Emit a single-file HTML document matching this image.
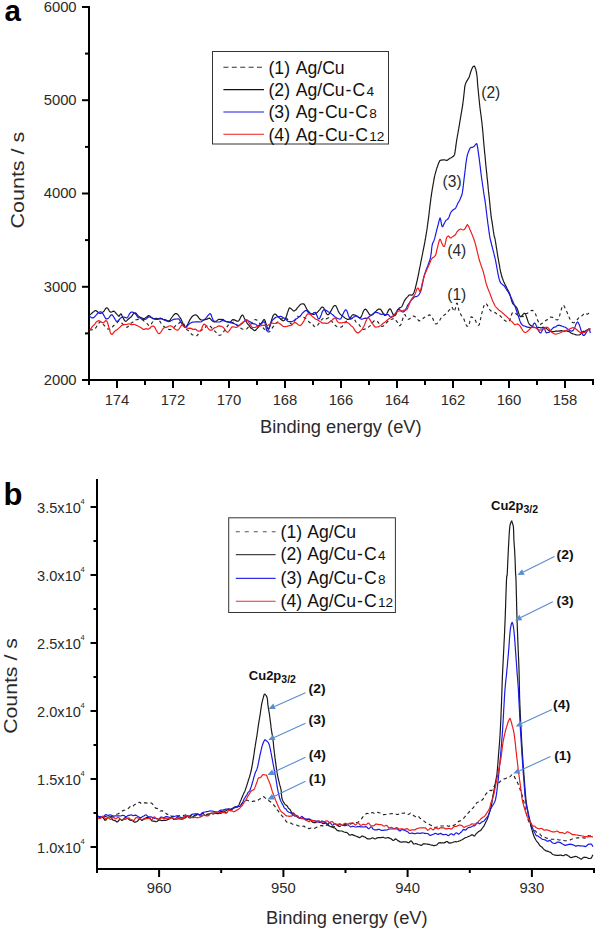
<!DOCTYPE html>
<html><head><meta charset="utf-8"><style>
html,body{margin:0;padding:0;background:#fff;}
svg{display:block;}
</style></head><body>
<svg width="597" height="929" viewBox="0 0 597 929">
<rect width="597" height="929" fill="#fff"/>
<g stroke="#000" stroke-width="2" fill="none">
<path d="M89 6V381M88 380H594"/>
<path d="M82 380.0H89"/>
<path d="M82 286.8H89"/>
<path d="M82 193.5H89"/>
<path d="M82 100.2H89"/>
<path d="M82 7.0H89"/>
<path d="M85 333.4H89"/>
<path d="M85 240.1H89"/>
<path d="M85 146.9H89"/>
<path d="M85 53.6H89"/>
<path d="M593.0 380V385.0"/>
<path d="M565.0 380V388.0"/>
<path d="M537.0 380V385.0"/>
<path d="M509.0 380V388.0"/>
<path d="M481.0 380V385.0"/>
<path d="M453.0 380V388.0"/>
<path d="M425.0 380V385.0"/>
<path d="M397.0 380V388.0"/>
<path d="M369.0 380V385.0"/>
<path d="M341.0 380V388.0"/>
<path d="M313.0 380V385.0"/>
<path d="M285.0 380V388.0"/>
<path d="M257.0 380V385.0"/>
<path d="M229.0 380V388.0"/>
<path d="M201.0 380V385.0"/>
<path d="M173.0 380V388.0"/>
<path d="M145.0 380V385.0"/>
<path d="M117.0 380V388.0"/>
<path d="M89.0 380V385.0"/>
</g>
<path d="M89.7 329.9L90.4 329.8L91.5 329.8L92.6 329.7L93.9 329.8L95.0 329.2L95.6 328.1L96.3 327.0L96.9 325.9L97.5 324.9L98.1 323.9L98.8 323.1L99.4 322.5L100.0 322.0L100.8 321.6L101.7 322.0L102.5 323.1L103.3 324.3L104.2 325.3L105.0 326.2L105.8 327.0L106.7 328.1L107.5 328.9L108.3 329.0L109.2 329.1L110.0 329.3L110.7 329.2L111.4 328.7L112.1 327.6L112.8 326.5L113.5 325.7L114.2 325.1L115.0 324.4L115.9 323.7L116.9 322.9L117.9 321.6L119.0 321.1L120.0 322.1L121.0 323.0L121.9 323.3L122.7 323.9L123.6 324.7L124.4 325.4L125.3 326.3L126.1 327.0L127.0 327.3L127.9 326.8L128.7 325.8L129.6 324.9L130.4 323.9L131.3 322.9L132.1 322.5L133.0 322.0L134.0 321.1L135.0 320.1L136.0 319.7L137.0 319.6L138.0 319.4L139.0 319.4L140.0 319.5L141.0 319.7L142.1 319.8L143.1 320.2L144.1 321.2L145.0 321.9L146.0 322.6L147.0 323.5L148.0 324.7L149.0 325.7L150.0 325.6L150.6 324.8L151.3 323.9L151.9 323.0L152.6 322.0L153.3 320.9L154.0 319.7L154.6 318.9L155.3 318.5L156.0 318.4L156.7 318.4L157.5 318.7L158.2 319.2L158.9 320.1L159.6 321.0L160.4 322.1L161.2 323.7L162.0 324.7L162.7 325.3L163.5 326.1L164.3 326.7L165.2 327.4L166.0 328.1L166.8 328.7L167.7 329.3L168.5 329.4L169.3 329.5L170.0 329.6L171.0 329.5L171.9 329.1L172.7 328.6L173.5 327.9L174.3 327.1L175.2 326.2L176.0 325.4L176.9 325.1L177.7 324.8L178.6 323.8L179.4 322.7L180.3 322.1L181.1 322.2L182.0 322.7L182.6 322.9L183.2 323.2L183.7 323.8L184.3 324.9L184.9 326.3L185.5 327.4L186.1 328.5L186.7 329.5L187.3 329.9L188.0 330.3L188.9 331.2L189.9 332.1L190.9 333.4L192.0 334.6L193.1 334.9L194.1 334.7L195.1 335.1L196.0 335.7L197.0 335.7L197.9 334.7L198.7 333.4L199.5 332.3L200.3 331.1L201.2 330.3L202.0 330.0L202.9 329.5L203.7 328.9L204.6 328.2L205.4 327.3L206.3 326.2L207.1 325.6L208.0 325.3L208.9 325.3L209.7 325.7L210.6 326.6L211.4 327.5L212.3 328.6L213.1 329.9L214.0 330.6L214.8 331.1L215.5 331.9L216.2 332.5L217.0 333.3L217.8 334.3L218.5 335.0L219.2 335.3L220.0 335.2L220.6 335.0L221.2 334.7L221.8 334.1L222.4 333.3L223.0 332.6L223.6 331.9L224.2 330.8L224.8 329.5L225.4 328.5L226.0 327.9L226.8 327.1L227.5 326.1L228.2 325.1L229.0 324.1L229.8 323.0L230.5 322.3L231.2 322.3L232.0 322.5L232.9 322.4L233.7 322.2L234.6 322.4L235.4 323.5L236.3 324.7L237.1 325.4L238.0 325.6L238.9 326.1L239.7 327.1L240.6 328.1L241.4 328.6L242.3 329.0L243.1 329.3L244.0 329.4L244.9 329.3L245.7 329.0L246.6 329.0L247.4 328.2L248.3 327.1L249.1 326.2L250.0 325.0L250.9 323.9L251.7 323.4L252.6 322.8L253.4 321.4L254.3 320.1L255.1 319.6L256.0 319.7L256.8 320.0L257.5 320.7L258.2 321.8L259.0 322.7L259.8 323.5L260.5 324.4L261.2 325.0L262.0 325.5L262.8 326.7L263.5 328.3L264.2 329.1L265.0 329.5L265.8 330.3L266.5 330.9L267.2 331.3L268.0 331.7L268.8 332.0L269.5 331.8L270.2 330.8L271.0 329.6L271.8 328.6L272.5 327.6L273.2 326.6L274.0 325.6L274.8 324.7L275.5 323.9L276.2 323.1L277.0 322.4L277.8 322.0L278.5 321.3L279.2 320.4L280.0 319.6L281.0 319.1L282.0 318.9L283.0 318.4L284.0 317.8L285.0 317.5L286.0 317.8L286.8 318.4L287.5 319.3L288.2 320.6L289.0 321.8L289.8 322.5L290.5 323.3L291.2 323.9L292.0 324.1L292.6 323.9L293.2 323.3L293.8 322.6L294.4 321.6L295.0 320.2L295.6 318.9L296.2 317.8L296.8 316.8L297.4 316.3L298.0 316.5L299.0 316.6L300.0 316.7L301.0 316.9L302.0 317.2L303.0 317.1L304.0 317.5L304.9 317.9L305.7 318.5L306.6 319.3L307.4 320.5L308.3 321.2L309.1 322.0L310.0 322.7L310.9 322.9L311.7 323.0L312.6 324.0L313.4 325.5L314.3 326.4L315.1 326.9L316.0 326.9L316.8 326.4L317.5 325.5L318.2 324.4L319.0 323.4L319.8 322.3L320.5 321.3L321.2 320.1L322.0 319.4L323.0 318.6L324.0 317.9L325.0 318.2L326.0 318.9L327.0 318.6L328.0 317.9L328.8 317.9L329.5 318.8L330.2 319.9L331.0 320.8L331.8 321.4L332.5 322.2L333.2 323.4L334.0 324.4L334.9 325.1L335.7 325.7L336.6 326.4L337.4 326.8L338.3 327.2L339.1 327.4L340.0 327.3L340.8 327.1L341.5 327.0L342.2 326.6L343.0 325.6L343.8 324.1L344.5 323.1L345.2 322.3L346.0 321.6L346.9 321.1L347.7 320.5L348.6 319.9L349.4 319.5L350.3 319.0L351.1 318.4L352.0 318.3L352.8 318.4L353.5 318.6L354.2 319.2L355.0 320.4L355.8 321.8L356.5 322.5L357.2 322.9L358.0 323.6L358.8 324.3L359.5 325.2L360.2 326.3L361.0 327.4L361.8 328.3L362.5 329.1L363.2 329.5L364.0 329.4L364.9 329.0L365.7 328.8L366.6 328.5L367.4 327.9L368.3 327.3L369.1 326.6L370.0 325.9L370.8 325.3L371.5 324.4L372.2 323.0L373.0 322.0L373.8 321.2L374.5 320.5L375.2 320.3L376.0 320.7L376.8 321.0L377.5 321.5L378.2 322.3L379.0 323.3L379.8 324.1L380.5 325.1L381.2 326.0L382.0 326.4L382.9 326.3L383.7 325.8L384.6 325.1L385.4 323.9L386.3 322.9L387.1 322.0L388.0 321.3L388.9 320.6L389.7 319.8L390.6 319.2L391.4 319.3L392.3 319.1L393.1 318.7L394.0 318.5L394.7 318.7L395.4 319.6L396.1 320.7L396.8 321.5L397.5 322.4L398.1 323.8L398.8 325.0L399.4 325.6L400.0 325.6L400.5 325.1L401.0 324.4L401.4 323.4L401.8 322.2L402.2 320.7L402.6 319.3L403.0 318.2L403.4 317.1L403.8 316.0L404.2 314.8L405.0 314.6L405.8 316.0L406.7 317.4L407.5 318.6L408.4 319.3L409.3 319.0L410.3 318.2L411.2 317.1L412.3 316.2L413.4 316.0L414.2 316.2L415.0 316.7L415.9 317.5L416.7 318.5L417.6 319.4L418.5 320.4L419.3 320.9L420.1 320.6L421.0 320.0L421.9 319.6L422.7 319.0L423.4 318.1L424.2 317.5L425.1 317.0L426.2 316.5L427.4 316.0L428.7 315.1L429.9 314.9L431.0 315.8L431.6 316.5L432.2 317.3L432.7 318.4L433.2 319.6L433.8 320.7L434.3 321.9L434.8 323.0L435.4 323.8L436.0 324.0L436.7 323.7L437.4 323.1L438.1 322.4L438.8 321.6L439.6 320.5L440.3 319.3L441.1 318.0L441.9 316.7L442.6 316.1L443.4 315.7L444.2 315.1L445.0 314.6L445.8 313.9L446.6 313.1L447.3 312.3L448.0 311.6L448.6 310.8L449.7 309.5L450.5 308.0L451.2 307.2L451.9 307.1L452.6 308.1L453.2 309.6L453.8 311.0L454.4 311.4L454.7 310.7L455.0 309.7L455.4 308.3L455.7 306.8L456.0 305.3L456.4 304.0L456.7 303.2L457.0 303.3L457.3 303.4L457.5 303.9L457.8 304.7L458.0 305.9L458.3 307.2L458.5 308.6L458.8 309.9L459.1 311.1L459.5 312.0L460.0 313.0L460.6 314.0L461.2 315.2L461.8 316.1L462.5 316.9L463.1 317.8L463.7 318.8L464.2 319.8L464.6 321.0L465.1 322.3L465.6 323.5L466.0 324.5L466.5 325.5L466.9 326.1L467.4 326.3L467.8 326.2L468.2 326.5L468.5 326.1L468.9 325.1L469.2 324.0L469.6 322.7L469.9 321.2L470.2 319.9L470.5 318.7L470.9 317.5L471.2 316.8L472.3 317.3L473.3 318.1L474.5 319.0L475.1 319.7L475.7 320.9L476.3 322.5L476.9 324.0L477.5 325.0L478.1 325.3L478.7 325.2L479.0 325.0L479.3 324.5L479.5 323.7L479.8 322.7L480.1 321.5L480.3 320.3L480.6 319.1L480.8 317.8L481.1 316.5L481.3 315.3L481.6 314.1L481.8 313.1L482.1 312.2L482.5 310.8L482.9 309.3L483.3 307.9L483.6 306.7L484.0 305.7L484.5 304.7L484.9 303.9L485.4 303.4L485.9 303.5L486.5 304.0L487.1 304.8L487.7 305.9L488.4 307.2L489.1 308.3L489.8 309.6L490.5 310.5L491.3 311.2L492.2 311.7L493.0 312.1L494.0 312.3L494.9 312.6L496.0 313.3L497.2 314.3L497.9 314.4L498.7 314.6L499.5 315.3L500.4 316.1L501.3 317.0L502.2 318.2L503.1 319.2L504.0 319.9L504.9 320.6L505.7 321.1L506.5 321.5L507.2 321.8L507.9 322.0L508.6 321.9L509.2 321.4L509.7 320.5L510.2 319.3L510.6 318.0L511.0 316.6L511.4 315.2L511.8 313.9L512.3 313.0L512.8 312.6L513.3 312.4L514.0 312.5L514.7 312.8L515.4 313.3L516.1 313.8L516.8 314.6L517.6 315.2L518.5 315.7L519.5 316.0L520.5 316.1L521.3 316.0L522.2 316.5L523.1 316.7L524.1 315.5L525.2 313.9L526.2 313.5L527.3 313.4L528.3 312.6L529.4 311.8L530.4 311.2L531.3 310.5L532.2 310.2L533.0 310.7L533.6 311.4L534.2 312.1L534.7 312.6L535.2 313.3L535.7 314.4L536.1 315.6L536.5 316.8L536.9 318.1L537.3 319.3L537.7 320.4L538.2 321.3L538.6 322.4L539.1 323.5L539.6 324.4L540.2 324.6L541.0 324.1L541.8 323.6L542.7 323.1L543.6 322.5L544.6 321.7L545.6 320.7L546.5 320.0L547.5 319.6L548.4 318.9L549.3 318.0L550.1 317.3L550.9 317.1L552.1 317.3L553.3 317.7L554.3 318.3L555.3 319.0L556.3 319.8L557.2 320.0L558.1 319.5L558.6 318.8L559.0 317.7L559.4 316.5L559.8 315.2L560.1 313.8L560.5 312.3L560.9 311.0L561.3 309.7L561.6 308.4L562.1 307.3L562.5 306.4L563.0 305.5L563.5 305.2L563.9 305.7L564.3 306.5L564.8 307.4L565.2 308.4L565.7 309.4L566.2 310.5L566.7 311.6L567.2 312.6L567.7 313.9L568.2 315.2L568.8 316.4L569.3 317.6L569.8 318.8L570.3 319.9L570.9 320.9L571.4 321.6L571.9 322.1L572.4 322.4L573.2 322.7L574.0 322.7L574.9 322.2L575.7 321.6L576.5 320.8L577.4 319.7L578.2 318.4L579.0 317.6L579.8 317.0L580.6 316.4L581.4 316.0L582.5 315.4L583.7 313.9L584.9 313.0L586.0 313.7L587.1 314.1L588.1 313.8L588.9 313.3L589.5 313.1" fill="none" stroke="#222" stroke-width="1.15" stroke-linejoin="round" stroke-dasharray="3.2 3"/>
<path d="M89.7 315.1L90.3 314.6L91.1 313.9L92.1 313.0L93.1 312.1L94.1 311.4L95.0 310.6L96.1 310.7L97.2 311.5L98.2 312.4L99.2 313.1L100.4 313.4L101.4 313.1L102.6 312.4L103.3 311.8L104.0 311.1L104.7 310.0L105.4 308.9L106.1 308.1L106.8 307.8L107.5 308.0L108.1 308.9L108.8 310.0L109.4 311.1L110.1 311.9L111.1 312.2L112.1 311.8L113.2 311.2L114.3 311.4L115.2 312.3L116.1 313.4L116.9 314.3L117.8 315.2L118.5 316.1L119.4 316.1L120.1 314.5L121.0 313.8L121.5 314.6L122.1 315.9L122.6 317.2L123.3 318.3L123.9 319.4L124.5 320.4L125.2 321.2L126.0 321.3L126.8 320.6L127.6 319.8L128.5 319.0L129.4 318.2L130.2 317.6L131.0 317.1L131.8 316.2L132.6 314.8L133.5 313.7L134.4 313.1L135.3 312.9L136.1 313.3L136.9 314.3L137.7 315.4L138.6 316.1L139.4 316.8L140.3 317.5L141.2 317.7L142.0 318.0L143.0 318.5L144.0 318.7L145.0 318.2L145.9 317.6L146.9 317.0L147.8 316.0L148.7 315.5L149.8 316.0L150.8 317.0L151.8 317.8L152.7 318.4L153.7 318.9L154.7 319.0L155.7 318.9L156.7 318.8L157.7 318.8L158.7 318.6L159.7 318.3L160.7 318.2L161.7 318.6L162.7 319.2L163.7 319.5L164.7 319.5L165.7 319.8L166.6 320.4L167.7 320.8L168.8 320.8L169.4 320.7L170.1 320.1L170.7 319.2L171.4 318.0L172.2 317.0L172.9 316.0L173.6 315.1L174.2 314.4L174.9 313.9L175.5 313.6L176.3 313.6L177.1 313.9L177.9 314.6L178.6 315.5L179.2 316.5L179.9 317.4L180.5 318.3L181.1 319.3L181.6 320.5L182.1 321.6L182.6 322.7L183.0 323.7L183.4 324.6L183.8 325.5L184.8 327.4L186.0 327.4L186.4 326.7L186.8 325.9L187.3 325.0L187.8 324.0L188.3 322.9L188.9 321.9L189.4 320.8L189.9 319.8L190.5 318.9L191.0 318.2L192.0 316.7L193.1 315.8L194.1 315.2L195.1 314.8L196.1 314.9L197.0 315.4L197.7 316.3L198.5 317.4L199.3 318.5L200.1 319.4L201.1 319.9L202.1 320.0L203.1 320.1L204.1 319.9L205.1 319.6L206.1 319.3L207.1 319.2L208.0 318.6L209.1 318.2L209.9 318.4L210.7 319.2L211.5 320.2L212.4 321.1L213.3 321.6L214.2 321.8L215.1 321.8L216.1 321.4L217.0 320.6L218.0 319.8L219.1 319.3L220.2 319.4L221.1 319.5L222.1 319.4L223.2 319.5L224.3 320.4L225.3 321.2L226.4 321.6L227.3 321.6L228.2 321.8L229.4 322.1L230.5 321.9L231.4 320.9L232.3 319.9L233.3 319.6L234.3 319.9L235.4 320.4L236.4 320.9L237.4 321.2L238.3 321.1L238.9 320.6L239.5 319.7L240.1 318.4L240.7 317.1L241.3 316.1L241.8 315.4L242.3 315.0L242.9 315.3L243.5 316.1L244.0 317.4L244.6 318.8L245.3 320.1L245.8 321.0L246.5 321.9L247.1 323.1L247.8 324.1L248.5 324.9L249.2 325.7L249.8 326.6L250.4 327.5L251.3 328.4L252.1 328.8L252.9 329.3L253.6 330.0L254.4 330.6L255.4 330.5L256.3 329.4L257.3 328.3L258.4 327.0L259.0 326.3L259.6 325.6L260.3 324.7L261.0 323.7L261.8 322.7L262.5 321.6L263.2 320.4L263.8 319.7L264.4 319.7L264.9 320.4L265.4 321.5L265.8 322.9L266.3 324.4L266.7 325.9L267.1 327.3L267.5 328.3L267.9 328.9L268.4 328.8L268.7 328.6L269.1 328.1L269.4 327.3L269.8 326.3L270.1 325.1L270.5 323.9L270.9 322.6L271.3 321.3L271.6 320.0L272.0 318.7L272.4 317.6L272.8 316.5L273.1 315.7L273.5 315.1L274.5 314.1L275.5 314.1L276.4 315.0L277.4 316.2L278.5 317.1L279.5 318.0L280.5 318.9L281.5 319.9L282.5 320.6L283.5 320.8L284.5 320.3L284.9 319.7L285.3 318.9L285.7 318.1L286.1 317.1L286.5 316.0L286.9 314.8L287.2 313.5L287.6 312.4L288.0 311.2L288.4 310.2L288.7 309.2L289.1 308.4L289.5 307.9L290.5 308.2L291.6 309.1L292.6 310.1L293.6 311.0L294.6 310.8L295.3 310.3L296.0 309.8L296.7 308.9L297.3 307.9L298.0 307.2L298.7 306.4L299.6 305.3L300.5 304.3L301.4 304.0L302.4 303.9L303.3 303.8L303.9 304.0L304.4 304.6L305.0 305.6L305.6 306.8L306.2 307.9L306.7 309.1L307.3 310.0L307.9 310.7L308.8 311.7L309.7 312.7L310.6 313.4L311.5 313.9L312.5 314.2L313.4 314.3L314.3 314.3L315.2 313.8L316.2 313.2L317.1 312.5L318.0 311.6L318.8 310.6L319.6 309.8L320.3 309.0L321.0 308.0L321.8 307.2L322.6 307.0L323.2 307.4L323.8 308.1L324.4 309.2L325.0 310.4L325.6 311.7L326.2 313.0L326.9 314.1L327.5 314.7L328.2 314.7L328.8 314.3L329.3 313.7L329.9 312.8L330.5 311.7L331.2 310.7L331.8 309.5L332.4 308.3L333.0 307.3L333.5 306.4L334.1 305.9L334.6 305.6L335.3 305.6L335.9 306.0L336.5 306.9L337.0 308.1L337.6 309.4L338.1 310.7L338.6 311.9L339.2 312.8L340.0 313.8L340.7 314.6L341.5 315.3L342.3 316.0L343.0 316.5L343.8 317.0L344.9 317.9L346.0 318.6L347.2 319.3L348.4 319.4L349.1 318.9L349.9 318.1L350.7 317.2L351.5 316.0L352.3 315.0L353.1 314.7L354.0 314.8L355.0 315.0L356.1 315.7L357.3 316.5L358.4 317.2L359.4 317.7L360.4 317.7L361.0 317.0L361.5 316.0L362.0 314.9L362.5 313.6L363.0 312.3L363.5 311.1L364.0 310.2L364.5 309.6L365.0 309.3L365.6 309.2L366.3 309.7L367.0 310.6L367.7 311.7L368.5 312.9L369.2 314.1L369.8 314.8L370.5 315.2L371.5 315.1L372.4 314.7L373.4 314.0L374.3 312.8L375.2 311.9L376.1 311.1L377.0 310.2L377.9 309.5L378.8 309.1L379.8 309.1L380.5 309.4L381.1 310.0L381.8 311.1L382.6 312.4L383.3 313.6L384.0 314.6L384.6 315.4L385.3 315.5L386.0 315.0L386.7 314.0L387.3 312.7L388.0 311.4L388.6 310.1L389.3 309.2L389.9 308.8L390.5 309.2L391.1 310.1L391.7 311.4L392.3 312.7L392.8 313.9L393.4 315.0L394.0 315.6L394.5 315.7L395.0 315.7L395.5 315.2L395.9 314.4L396.4 313.3L396.8 312.1L397.3 310.9L397.7 309.9L398.2 309.2L399.2 308.2L400.1 307.6L401.1 307.2L402.0 306.3L402.5 305.3L403.0 304.1L403.5 303.0L403.9 301.9L404.4 300.8L405.0 299.9L405.6 299.1L406.3 298.2L407.0 297.4L407.8 296.6L408.5 295.7L409.2 295.0L410.3 294.9L411.3 295.2L412.4 294.9L413.4 293.6L413.7 293.0L414.0 292.4L414.3 291.6L414.6 290.8L414.8 289.9L415.1 289.0L415.4 288.0L415.6 286.9L415.9 285.8L416.2 284.5L416.5 283.3L416.8 282.0L417.0 281.2L417.2 280.3L417.4 279.4L417.6 278.5L417.8 277.6L418.0 276.6L418.2 275.6L418.4 274.6L418.6 273.6L418.8 272.6L419.0 271.5L419.2 270.5L419.4 269.4L419.6 268.4L419.8 267.3L420.1 266.2L420.3 265.1L420.5 264.0L420.7 263.0L420.9 261.9L421.1 260.9L421.3 259.9L421.5 259.0L421.7 258.0L421.9 257.0L422.1 256.0L422.3 255.0L422.5 254.0L422.7 253.0L422.9 251.9L423.1 250.9L423.3 249.9L423.5 248.9L423.7 247.9L423.9 246.9L424.1 245.9L424.3 244.9L424.5 243.9L424.7 242.9L424.9 241.9L425.0 240.9L425.2 240.0L425.4 238.9L425.6 237.9L425.7 236.8L425.9 235.8L426.1 234.8L426.2 233.8L426.4 232.8L426.6 231.9L426.7 230.9L426.9 229.9L427.0 228.9L427.2 227.9L427.3 226.9L427.4 225.9L427.6 224.9L427.7 223.8L427.9 222.7L428.0 221.6L428.2 220.5L428.3 219.6L428.4 218.6L428.6 217.7L428.7 216.7L428.8 215.7L428.9 214.7L429.1 213.6L429.2 212.6L429.3 211.5L429.4 210.5L429.6 209.4L429.7 208.4L429.8 207.3L429.9 206.2L430.1 205.2L430.2 204.2L430.3 203.1L430.4 202.1L430.6 201.1L430.7 200.1L430.8 199.1L430.9 198.2L431.1 197.3L431.2 196.4L431.4 195.2L431.5 194.1L431.7 192.9L431.9 191.7L432.1 190.6L432.2 189.5L432.4 188.4L432.6 187.4L432.8 186.3L432.9 185.3L433.1 184.3L433.3 183.3L433.5 182.4L433.6 181.5L433.8 180.6L433.9 179.8L434.1 179.0L434.2 178.3L434.5 176.7L434.8 175.4L435.0 174.4L435.3 173.6L435.5 172.8L435.7 171.9L436.0 171.0L436.3 169.9L436.6 168.9L436.9 167.8L437.3 166.9L437.6 166.0L437.9 165.1L438.2 164.3L438.7 163.0L439.2 161.9L439.6 161.0L440.2 160.4L441.5 160.1L443.0 159.9L444.0 159.8L445.2 160.0L446.3 160.4L447.3 160.3L448.3 159.6L449.2 158.8L450.0 158.3L451.2 157.8L452.3 157.1L453.4 156.3L454.3 155.1L454.6 154.4L454.8 153.6L454.9 152.6L455.1 151.5L455.3 150.1L455.4 149.3L455.6 148.4L455.7 147.4L455.8 146.3L456.0 145.2L456.1 144.1L456.3 143.0L456.4 142.0L456.6 141.0L456.7 140.1L456.9 138.9L457.1 137.9L457.2 137.0L457.4 136.0L457.6 134.8L457.9 133.4L458.0 132.6L458.2 131.8L458.3 130.9L458.5 129.9L458.7 128.9L458.8 127.9L459.0 126.9L459.2 125.8L459.4 124.7L459.6 123.6L459.7 122.5L459.9 121.4L460.1 120.3L460.3 119.3L460.4 118.4L460.6 117.4L460.8 116.3L460.9 115.3L461.1 114.3L461.3 113.3L461.5 112.2L461.7 111.2L461.8 110.2L462.0 109.1L462.2 108.1L462.3 107.2L462.5 106.2L462.6 105.3L462.8 104.2L462.9 103.0L463.1 101.9L463.2 100.9L463.3 99.8L463.5 98.7L463.6 97.7L463.7 96.7L463.8 95.8L463.9 94.9L464.0 94.0L464.1 93.2L464.2 91.9L464.4 90.7L464.5 89.7L464.6 88.7L464.6 87.8L464.8 87.0L464.9 86.2L465.2 84.9L465.5 84.0L465.8 83.0L466.3 82.0L466.8 81.1L467.4 80.1L468.0 79.1L468.6 78.2L469.1 77.2L469.5 76.1L469.8 75.1L470.1 74.1L470.4 73.0L470.7 72.0L471.1 71.1L471.5 69.9L471.9 68.8L472.3 67.9L472.7 67.1L474.2 66.0L474.7 66.6L475.2 67.7L475.7 69.1L475.9 69.9L476.1 70.8L476.3 71.7L476.5 72.8L476.7 73.8L476.8 75.0L477.0 76.1L477.1 77.0L477.2 78.0L477.3 78.9L477.3 80.0L477.4 81.0L477.5 82.0L477.5 83.1L477.6 84.1L477.7 85.2L477.8 86.2L477.9 87.1L478.0 88.1L478.1 89.1L478.2 90.1L478.3 91.1L478.4 92.2L478.5 93.2L478.6 94.2L478.7 95.2L478.8 96.2L478.9 97.2L479.0 98.2L479.1 99.2L479.2 100.3L479.3 101.3L479.4 102.3L479.5 103.3L479.6 104.3L479.7 105.3L479.8 106.3L479.9 107.3L480.1 108.3L480.2 109.3L480.3 110.3L480.5 111.3L480.6 112.3L480.7 113.3L480.9 114.3L481.0 115.3L481.1 116.3L481.3 117.3L481.4 118.4L481.5 119.4L481.6 120.5L481.8 121.5L481.9 122.5L482.0 123.5L482.1 124.5L482.2 125.4L482.3 126.5L482.4 127.6L482.5 128.6L482.6 129.6L482.7 130.6L482.8 131.5L482.9 132.5L483.0 133.4L483.1 134.3L483.1 134.9L483.1 135.4L483.2 136.2L483.3 137.6L483.5 140.1L483.6 140.7L483.6 141.4L483.7 142.2L483.8 143.0L483.9 143.9L483.9 144.8L484.0 145.7L484.1 146.7L484.2 147.8L484.3 148.8L484.4 149.9L484.5 151.0L484.6 152.1L484.7 153.3L484.9 154.4L485.0 155.5L485.1 156.7L485.2 157.9L485.3 159.0L485.4 160.1L485.5 161.3L485.6 162.4L485.7 163.5L485.8 164.5L485.9 165.6L486.0 166.6L486.1 167.6L486.2 168.6L486.3 169.5L486.4 170.3L486.5 171.6L486.7 172.9L486.8 174.1L486.9 175.3L487.0 176.5L487.1 177.6L487.2 178.7L487.4 179.8L487.5 180.9L487.6 181.9L487.7 182.9L487.8 183.9L487.9 184.8L488.0 185.7L488.1 186.6L488.1 187.5L488.2 188.4L488.3 189.2L488.4 190.0L488.5 191.4L488.7 192.6L488.8 193.7L488.9 194.6L489.0 195.5L489.1 196.4L489.2 197.3L489.3 198.2L489.4 199.2L489.5 200.4L489.6 201.3L489.7 202.3L489.8 203.3L489.9 204.4L490.0 205.5L490.1 206.6L490.2 207.7L490.3 208.8L490.4 210.0L490.6 211.0L490.7 212.1L490.8 213.1L490.9 214.1L491.0 215.0L491.1 216.2L491.3 217.3L491.4 218.3L491.6 219.3L491.8 220.3L491.9 221.2L492.1 222.1L492.2 223.1L492.4 224.0L492.5 225.0L492.7 226.0L492.8 227.1L493.0 228.2L493.1 229.3L493.3 230.3L493.4 231.4L493.6 232.4L493.7 233.3L493.9 234.2L494.0 235.0L494.2 236.1L494.4 236.7L494.6 237.3L494.9 238.3L495.2 240.0L495.3 240.7L495.4 241.4L495.6 242.3L495.7 243.1L495.9 244.0L496.0 245.0L496.2 246.0L496.3 247.1L496.5 248.1L496.7 249.2L496.9 250.3L497.0 251.5L497.2 252.6L497.4 253.7L497.6 254.8L497.7 255.8L497.9 256.9L498.1 257.9L498.3 258.9L498.5 259.9L498.6 261.0L498.8 262.0L499.0 263.1L499.2 264.1L499.4 265.2L499.6 266.2L499.8 267.3L499.9 268.4L500.1 269.4L500.3 270.4L500.5 271.4L500.7 272.3L501.0 273.2L501.2 274.1L501.4 275.0L501.6 275.8L502.0 277.0L502.4 278.2L502.8 279.3L503.2 280.4L503.6 281.5L504.1 282.4L504.5 283.3L504.9 284.2L505.3 284.9L505.7 285.7L506.1 286.5L506.6 287.6L507.1 288.6L507.6 289.5L508.0 290.4L508.5 291.2L508.9 292.0L509.3 292.9L509.7 293.8L510.0 294.7L510.3 295.7L510.6 296.8L510.9 297.8L511.1 298.9L511.4 299.9L511.7 300.9L512.0 301.9L512.4 302.9L513.0 303.9L513.6 304.5L514.2 304.9L514.9 305.6L515.6 306.4L516.3 307.2L516.9 308.1L517.3 309.0L517.7 310.1L518.1 311.2L518.5 312.5L518.9 313.7L519.3 314.9L519.7 315.8L520.1 316.4L520.5 316.7L521.3 316.7L522.2 315.7L523.1 314.4L524.0 313.4L524.9 313.3L525.3 313.8L525.7 314.6L526.0 315.6L526.4 316.7L526.8 317.8L527.2 319.0L527.6 320.2L528.0 321.4L528.4 322.5L528.9 323.5L529.4 324.3L530.2 325.0L531.0 325.6L531.9 326.1L532.8 326.7L533.8 327.0L534.7 327.4L535.7 327.8L536.6 327.9L537.6 327.6L538.6 327.4L539.6 327.5L540.6 327.9L541.6 327.8L542.7 327.4L543.8 327.3L544.7 327.6L545.6 328.1L546.5 328.6L547.4 329.4L548.4 330.2L549.4 330.8L550.4 331.4L551.5 331.7L552.7 331.7L553.6 331.7L554.6 331.5L555.6 331.1L556.6 331.0L557.7 331.1L558.8 331.1L559.9 330.9L561.0 330.7L562.1 330.8L563.2 331.2L564.2 331.3L565.3 331.0L566.3 330.8L567.3 331.1L568.3 331.4L569.4 331.8L570.4 332.6L571.5 333.2L572.5 333.6L573.5 334.0L574.5 334.3L575.4 334.6L576.3 334.9L577.1 335.0L577.8 335.0L579.1 334.8L580.1 334.6L580.8 334.0L581.5 333.1L582.3 332.0L583.2 331.4L584.2 331.3L585.3 331.1L586.5 330.3L587.7 329.7L588.8 329.4L589.7 329.2L590.4 328.9" fill="none" stroke="#1a1a1a" stroke-width="1.20" stroke-linejoin="round"/>
<path d="M89.7 316.5L90.6 317.1L92.0 317.9L93.4 317.8L94.2 317.2L95.0 316.3L95.9 315.4L96.8 314.4L97.6 313.3L98.6 312.5L99.6 312.0L100.7 311.8L101.8 312.2L102.4 312.9L103.0 313.8L103.6 314.9L104.2 316.0L104.9 317.3L105.5 318.4L106.2 318.9L106.8 318.9L107.6 318.7L108.5 318.2L109.3 317.3L110.1 316.0L111.0 315.0L111.8 314.7L112.5 315.3L113.2 316.2L113.9 317.3L114.7 318.6L115.4 319.8L116.1 320.9L116.8 321.4L117.6 321.1L118.5 320.5L119.4 319.5L120.2 318.4L121.1 317.7L121.9 317.3L122.9 317.1L123.9 317.2L125.0 317.4L126.0 317.8L126.9 317.9L127.5 317.3L128.2 316.3L128.8 315.3L129.3 314.2L129.9 313.3L130.5 312.6L131.1 312.2L132.2 312.1L133.3 312.4L134.3 313.0L135.3 313.8L136.0 314.5L136.5 315.3L137.1 316.2L137.7 317.1L138.6 317.7L139.6 317.8L140.7 318.3L141.9 319.3L143.2 319.5L144.3 319.4L145.3 319.3L146.3 319.0L147.0 318.3L147.7 317.4L148.7 316.9L149.5 317.0L150.4 317.2L151.3 317.6L152.4 318.0L153.4 318.5L154.4 318.9L155.4 319.2L156.5 319.3L157.6 319.3L158.8 319.1L159.9 319.0L161.0 318.8L162.1 318.8L163.2 319.6L164.4 320.3L165.6 320.7L166.7 321.0L167.8 321.4L168.8 321.7L169.9 321.5L170.9 320.8L171.9 320.3L172.8 319.8L173.8 319.4L174.8 319.2L175.8 319.1L176.8 319.0L177.8 318.8L178.8 318.9L179.4 319.6L180.0 320.6L180.6 321.6L181.2 322.6L181.8 323.6L182.3 324.6L182.9 325.4L183.4 326.1L183.8 326.5L184.8 327.4L186.0 326.9L186.7 326.7L187.4 326.0L188.2 325.0L189.1 324.1L190.1 323.3L191.1 322.7L192.1 322.2L193.0 322.1L194.0 322.0L195.1 321.9L196.2 321.9L197.2 321.9L198.3 321.8L199.2 321.9L200.1 322.0L201.3 321.8L202.3 321.1L203.2 320.4L204.1 319.6L205.1 318.9L205.8 318.2L206.6 317.3L207.3 316.3L208.1 315.4L208.8 314.6L209.5 313.9L210.2 313.6L210.7 314.1L211.2 315.0L211.6 316.2L212.0 317.4L212.5 318.6L212.9 319.8L213.5 320.7L214.2 321.1L215.0 321.4L215.9 321.8L216.9 322.0L217.9 322.0L219.0 322.0L220.1 321.8L221.2 321.1L222.2 320.6L223.2 320.7L224.2 320.8L225.2 321.0L226.2 321.5L227.3 322.0L228.3 322.2L229.3 322.4L230.3 322.6L231.3 322.8L232.3 323.2L233.3 323.5L234.3 323.7L235.3 324.2L236.3 324.8L237.3 325.1L238.3 325.3L239.2 325.4L240.1 324.9L241.0 324.2L242.0 323.5L242.9 322.6L243.8 321.9L244.6 321.0L245.5 320.2L246.3 319.8L247.4 320.3L248.5 321.1L249.5 321.5L250.4 321.9L251.4 322.6L252.4 323.4L253.4 323.9L254.4 323.9L255.4 324.1L256.4 324.9L257.4 325.8L258.4 325.8L259.4 325.1L260.5 324.2L261.6 323.5L262.6 322.7L263.6 321.9L264.4 321.9L264.9 322.6L265.2 323.8L265.5 325.1L265.8 326.5L266.1 327.9L266.4 329.2L266.6 330.3L267.0 331.0L267.4 331.1L267.7 330.9L268.1 330.4L268.5 329.7L268.9 328.8L269.3 327.7L269.8 326.4L270.2 325.2L270.7 324.0L271.1 322.8L271.6 321.7L272.0 320.7L272.5 320.1L273.4 319.3L274.4 318.5L275.4 317.5L276.5 317.0L277.5 316.9L278.5 316.7L279.5 316.5L280.5 316.4L281.6 316.6L282.6 317.3L283.6 317.9L284.5 318.2L285.4 318.8L286.2 319.5L286.9 320.4L287.7 321.3L288.6 321.6L289.5 321.6L290.4 321.6L291.5 321.7L292.6 321.3L293.7 320.7L294.7 320.1L295.7 319.3L296.6 318.7L297.6 318.0L298.3 317.3L299.0 316.6L299.7 316.3L300.5 315.8L301.2 314.9L302.0 313.7L302.8 312.8L303.7 312.0L304.5 311.3L305.3 310.7L306.1 310.5L307.1 310.9L308.0 312.0L308.9 313.1L309.8 313.6L310.7 313.9L311.9 314.0L313.1 313.3L314.2 312.5L315.3 312.4L315.9 313.3L316.4 314.4L316.9 315.6L317.4 316.8L317.9 318.0L318.4 318.8L319.0 318.9L319.4 318.6L319.8 318.0L320.3 317.1L320.7 316.0L321.2 314.9L321.7 313.5L322.1 312.3L322.6 311.2L323.1 310.4L323.6 309.9L324.5 309.7L325.4 310.1L326.4 310.6L327.3 311.1L328.2 311.8L329.1 312.2L330.0 312.6L330.9 313.3L331.8 314.1L332.7 314.8L333.7 315.7L334.5 316.4L335.4 317.1L336.4 317.8L337.3 318.4L338.3 318.7L339.2 319.0L340.1 319.1L340.7 318.8L341.3 317.9L341.9 316.8L342.4 315.5L343.0 314.1L343.6 312.8L344.1 311.7L344.7 310.8L345.2 310.1L345.7 309.7L346.2 310.0L346.7 310.7L347.1 311.6L347.6 312.8L348.0 314.1L348.4 315.4L348.9 316.6L349.3 317.6L349.8 318.4L350.3 318.9L351.2 319.0L352.0 318.5L352.9 317.6L353.9 316.9L354.8 316.4L355.8 316.1L356.7 316.0L357.6 316.3L358.5 317.2L359.5 318.2L360.4 318.8L361.4 319.1L362.3 319.2L363.4 318.8L364.4 318.3L365.5 318.2L366.6 318.4L367.6 318.0L368.7 317.0L369.6 316.3L370.6 315.8L371.5 315.1L372.4 314.3L373.3 313.6L374.3 312.9L375.2 312.4L376.3 312.3L377.4 312.6L378.5 313.0L379.5 313.6L380.6 314.1L381.6 314.3L382.8 314.1L383.9 314.1L384.9 314.6L386.0 314.9L387.1 314.5L388.0 314.5L389.0 315.3L389.9 316.6L390.8 317.3L391.8 317.2L392.7 316.8L393.3 316.5L393.9 315.9L394.6 315.0L395.2 314.0L395.8 313.0L396.4 311.9L397.0 310.8L397.6 309.9L398.2 309.3L399.3 309.4L400.3 310.2L401.4 311.3L402.4 312.0L403.4 312.0L404.0 311.6L404.6 311.0L405.1 310.3L405.7 309.3L406.2 308.3L406.8 307.2L407.4 305.9L408.0 304.8L408.6 304.0L409.3 303.2L409.9 302.2L410.6 301.1L411.2 300.2L411.9 299.6L412.7 298.9L413.4 298.0L414.2 297.1L415.0 296.7L415.9 296.7L416.8 296.5L417.7 295.9L418.6 295.1L419.4 294.1L420.1 292.7L420.4 292.1L420.7 291.4L420.9 290.6L421.2 289.8L421.4 288.9L421.6 287.9L421.8 286.9L422.0 285.9L422.3 284.9L422.5 283.8L422.7 282.6L422.9 281.6L423.1 280.5L423.3 279.4L423.5 278.3L423.8 277.3L424.0 276.3L424.3 275.3L424.6 274.3L424.9 273.3L425.3 272.3L425.7 271.2L426.0 270.1L426.4 269.1L426.8 268.2L427.2 267.2L427.6 266.2L428.0 265.2L428.3 264.2L428.7 263.3L429.0 262.3L429.4 261.3L429.7 260.3L430.0 259.4L430.2 258.5L430.5 257.4L430.7 256.2L430.9 255.0L431.1 253.8L431.3 252.7L431.4 251.6L431.5 250.5L431.6 249.4L431.7 248.4L431.8 247.5L431.9 246.6L432.1 245.8L432.2 245.1L432.6 243.5L433.0 242.5L433.4 241.8L433.8 241.0L434.2 239.9L434.4 239.1L434.7 238.2L435.0 237.2L435.2 236.2L435.5 235.1L435.8 234.0L436.0 232.9L436.3 231.9L436.5 231.0L436.8 229.7L437.1 228.6L437.4 227.6L437.6 226.6L437.9 225.5L438.2 224.5L438.5 223.3L438.8 221.9L439.2 220.5L439.5 219.3L439.9 218.4L440.2 217.9L440.4 218.7L440.7 219.7L440.9 221.0L441.2 222.3L441.4 223.7L441.7 224.9L441.9 225.9L442.2 226.7L442.9 226.5L443.5 225.1L444.2 223.6L444.8 222.5L445.4 221.3L446.0 220.3L447.1 219.7L448.3 218.5L448.7 217.7L449.1 216.8L449.5 215.7L449.9 214.6L450.3 213.5L450.8 212.5L451.3 211.7L452.1 210.8L452.9 210.0L453.7 209.4L454.6 209.0L455.3 208.5L455.8 207.8L456.3 206.7L456.8 205.7L457.2 204.7L457.6 203.8L458.0 202.9L458.5 202.1L459.0 201.4L459.5 200.5L460.0 199.4L460.4 198.4L460.8 197.6L461.1 196.8L461.4 196.1L461.7 195.2L462.1 194.0L462.4 192.4L462.5 191.7L462.6 190.9L462.8 190.0L462.9 189.1L463.0 188.1L463.1 187.1L463.3 186.0L463.4 185.0L463.5 183.9L463.6 182.8L463.8 181.7L463.9 180.6L464.0 179.5L464.1 178.4L464.3 177.3L464.4 176.3L464.5 175.3L464.7 174.2L464.8 173.2L464.9 172.1L465.0 171.0L465.2 169.9L465.3 168.8L465.4 167.7L465.6 166.6L465.7 165.6L465.8 164.6L465.9 163.6L466.0 162.7L466.2 161.8L466.3 161.0L466.4 160.2L466.6 158.7L466.9 157.4L467.1 156.4L467.3 155.5L467.5 154.6L467.7 153.9L468.0 153.1L468.4 151.9L468.9 150.7L469.4 149.6L469.9 148.6L470.4 147.8L471.5 147.3L472.5 147.3L473.5 146.7L474.5 146.0L475.5 144.7L476.4 143.7L476.9 143.8L477.4 146.1L477.5 146.7L477.6 147.5L477.8 148.3L477.9 149.2L478.0 150.1L478.2 151.2L478.3 152.3L478.5 153.4L478.6 154.5L478.8 155.7L479.0 156.8L479.1 158.0L479.3 159.1L479.4 160.2L479.5 161.2L479.6 162.1L479.8 163.1L479.9 164.1L480.0 165.2L480.1 166.2L480.3 167.2L480.4 168.3L480.5 169.3L480.6 170.3L480.8 171.4L480.9 172.4L481.0 173.4L481.1 174.4L481.3 175.3L481.4 176.3L481.5 177.4L481.7 178.4L481.8 179.5L482.0 180.5L482.1 181.5L482.3 182.5L482.4 183.5L482.5 184.5L482.7 185.5L482.8 186.4L483.0 187.4L483.1 188.4L483.3 189.4L483.4 190.4L483.5 191.4L483.7 192.4L483.8 193.4L484.0 194.3L484.1 195.3L484.3 196.3L484.4 197.3L484.6 198.2L484.8 199.2L484.9 200.2L485.1 201.2L485.2 202.3L485.4 203.3L485.5 204.4L485.6 205.4L485.8 206.3L485.9 207.3L486.0 208.3L486.1 209.3L486.3 210.4L486.4 211.4L486.5 212.4L486.6 213.5L486.8 214.5L486.9 215.5L487.0 216.5L487.1 217.5L487.3 218.6L487.4 219.5L487.5 220.5L487.6 221.6L487.8 222.7L487.9 223.9L488.1 225.0L488.3 226.2L488.4 227.3L488.6 228.4L488.7 229.5L488.9 230.6L489.0 231.6L489.1 232.5L489.3 233.4L489.4 234.2L489.5 235.0L489.7 236.4L489.8 237.0L489.9 237.4L490.1 238.3L490.5 240.1L490.7 240.8L490.8 241.5L491.0 242.3L491.3 243.2L491.5 244.1L491.7 245.0L492.0 246.0L492.3 247.0L492.5 248.1L492.8 249.3L493.1 250.4L493.4 251.5L493.7 252.6L493.9 253.7L494.2 254.9L494.5 256.0L494.8 257.1L495.0 258.2L495.3 259.2L495.5 260.2L495.7 261.2L495.9 262.3L496.1 263.4L496.3 264.5L496.5 265.6L496.7 266.7L496.9 267.8L497.1 268.9L497.3 270.0L497.5 271.1L497.7 272.2L497.9 273.3L498.1 274.3L498.3 275.3L498.5 276.3L498.7 277.2L498.9 278.1L499.1 278.8L499.3 279.5L499.5 280.2L500.2 281.9L500.9 283.1L501.6 283.8L502.3 284.4L503.0 284.9L503.8 285.5L504.5 286.3L505.1 287.2L505.6 288.0L506.1 288.9L506.7 289.7L507.2 290.6L507.8 291.4L508.4 292.2L508.9 293.3L509.5 294.5L509.9 295.3L510.3 296.1L510.8 296.9L511.2 297.9L511.7 298.8L512.1 299.8L512.6 300.7L513.0 301.7L513.4 302.7L513.8 303.7L514.2 304.7L514.6 305.6L515.0 306.4L515.4 307.4L515.8 308.5L516.1 309.6L516.5 310.5L516.8 311.5L517.1 312.5L517.4 313.5L517.7 314.4L518.1 315.4L518.4 316.3L518.7 317.2L519.1 318.3L519.5 319.5L519.8 320.6L520.2 321.6L520.6 322.6L521.0 323.4L521.6 324.2L522.3 325.0L523.1 325.6L524.0 326.0L525.1 326.2L526.2 326.6L527.3 327.2L528.4 327.4L529.5 327.4L530.4 327.4L531.2 327.3L532.2 326.7L532.9 325.5L533.5 324.1L534.0 323.2L534.8 323.2L535.2 323.7L535.7 324.4L536.2 325.4L536.7 326.6L537.2 327.8L537.8 329.0L538.3 330.2L538.8 331.1L539.3 331.9L539.8 332.5L540.2 332.8L540.9 332.8L541.5 332.0L542.1 330.7L542.7 329.3L543.2 328.1L543.8 327.5L544.3 328.1L544.8 329.1L545.2 330.6L545.7 332.0L546.4 332.8L547.3 332.6L547.9 332.5L548.6 332.4L549.4 332.1L550.2 331.3L551.0 330.1L551.9 329.1L552.8 328.2L553.7 327.4L554.6 327.1L555.5 326.9L556.3 326.4L557.3 325.5L558.3 325.2L559.4 325.3L560.4 325.6L561.4 325.9L562.4 326.3L563.4 326.6L564.4 327.0L565.3 327.3L566.4 328.0L567.5 328.9L568.6 329.7L569.6 330.3L570.6 330.9L571.5 331.1L572.4 331.0L573.0 330.6L573.6 329.8L574.1 328.8L574.7 327.7L575.2 326.4L575.7 324.9L576.2 323.7L576.7 322.8L577.3 322.2L577.8 322.1L578.2 322.6L578.6 323.3L579.0 324.2L579.5 325.3L579.9 326.6L580.3 327.8L580.7 329.2L581.1 330.5L581.5 331.8L582.0 332.9L582.4 333.9L582.8 334.7L583.2 335.3L584.0 335.5L584.8 334.8L585.7 333.7L586.5 332.3L587.3 330.8L588.0 329.7L588.6 329.0L589.5 329.9L590.1 331.8L590.4 333.0" fill="none" stroke="#1a1ae6" stroke-width="1.20" stroke-linejoin="round"/>
<path d="M89.7 330.0L90.1 329.5L90.6 328.9L91.2 328.1L91.9 327.1L92.7 326.1L93.4 325.4L94.2 324.7L95.0 323.8L95.8 322.6L96.7 321.7L97.6 321.1L98.4 320.7L99.4 320.8L100.5 321.6L101.5 322.3L102.5 322.7L103.4 322.9L104.6 321.8L105.7 320.4L106.8 321.1L107.1 321.7L107.4 322.3L107.7 323.2L108.0 324.3L108.4 325.5L108.7 326.8L109.0 328.0L109.3 329.2L109.7 330.3L110.0 331.4L110.3 332.3L110.7 333.2L111.0 334.0L112.0 334.5L113.0 333.3L114.1 332.0L115.2 330.8L116.0 330.3L116.8 329.9L117.7 329.2L118.5 328.4L119.4 327.6L120.2 326.9L121.1 325.9L122.0 325.3L122.8 324.9L123.9 324.6L125.2 324.5L126.0 324.5L126.9 324.3L128.0 324.0L129.0 323.8L130.1 324.3L131.3 324.7L132.4 324.6L133.4 324.4L134.4 324.5L135.3 324.8L136.4 325.4L137.5 325.8L138.4 326.2L139.3 326.7L140.2 327.3L141.1 327.8L142.0 328.5L143.1 329.3L144.3 329.4L145.5 328.9L146.6 328.7L147.7 329.1L148.7 329.1L149.8 328.3L150.8 327.1L151.8 326.4L152.7 326.0L153.7 326.2L154.3 326.7L154.8 327.4L155.4 328.4L155.9 329.5L156.5 330.6L157.0 331.5L157.6 332.4L158.1 333.1L158.7 333.6L159.4 333.6L160.1 333.1L160.8 332.3L161.4 331.2L162.1 330.0L162.9 328.9L163.7 328.1L164.6 327.5L165.5 327.3L166.5 327.3L167.4 326.9L168.4 326.3L169.4 326.0L170.4 325.9L171.4 326.0L172.4 326.7L173.4 327.7L174.3 328.6L175.3 329.2L176.2 329.7L177.1 330.2L177.9 330.2L178.7 329.4L179.5 328.3L180.2 327.2L180.9 326.1L181.6 325.1L182.2 324.8L183.1 325.6L183.9 326.6L184.8 327.2L186.0 327.8L186.8 328.0L187.8 328.3L188.8 328.3L189.9 328.2L191.0 328.3L192.1 328.9L193.2 329.4L194.1 329.3L195.2 329.1L196.3 329.8L197.4 330.7L198.3 331.2L199.2 331.1L200.1 330.7L200.7 330.4L201.2 329.7L201.7 328.7L202.1 327.5L202.5 326.3L203.0 325.3L203.5 324.6L204.1 324.2L204.8 324.4L205.5 325.0L206.2 325.9L207.0 326.9L207.8 328.0L208.6 329.0L209.4 329.7L210.2 330.2L211.2 330.3L212.2 329.9L213.2 328.8L214.2 328.0L215.2 327.5L216.2 327.2L217.2 326.7L218.2 326.1L219.3 325.9L220.3 326.2L221.3 326.4L222.2 326.7L223.0 327.2L223.7 327.9L224.4 328.7L225.1 329.8L225.8 330.8L226.5 331.5L227.2 332.1L227.9 332.2L228.6 331.6L229.3 330.7L230.0 329.7L230.8 328.5L231.5 327.4L232.3 326.8L233.2 326.9L234.2 327.0L235.1 327.2L236.1 327.3L237.2 327.1L238.3 326.3L239.0 325.7L239.8 325.0L240.6 324.2L241.4 323.4L242.3 322.7L243.1 322.0L244.0 321.5L244.8 321.2L245.6 320.7L246.3 320.3L247.1 320.2L247.7 320.8L248.4 321.7L249.0 322.8L249.7 323.8L250.3 324.8L251.0 325.9L251.6 326.8L252.4 327.3L253.3 327.5L254.3 327.5L255.3 327.3L256.4 326.9L257.5 326.6L258.5 326.4L259.5 326.2L260.4 325.9L261.5 325.5L262.5 325.3L263.5 325.4L264.5 325.3L265.4 325.4L266.4 325.7L267.4 325.5L268.4 324.9L269.4 324.3L270.5 323.8L271.5 323.2L272.5 323.0L273.5 323.3L274.5 323.5L275.5 323.2L276.5 322.8L277.5 322.7L278.5 323.0L279.3 323.3L280.2 324.0L281.0 324.6L281.8 325.3L282.6 326.0L283.5 326.5L284.5 326.7L285.5 326.7L286.5 326.5L287.6 326.2L288.8 325.7L289.9 325.6L290.9 325.4L291.8 324.8L292.6 324.1L293.9 322.9L295.0 322.5L295.8 322.7L296.8 323.6L297.9 324.4L299.1 325.2L300.3 325.6L301.4 324.8L301.9 324.0L302.5 323.2L303.0 322.4L303.6 321.4L304.2 320.2L304.7 318.9L305.3 317.8L305.8 316.7L306.3 315.7L306.9 314.8L307.4 314.1L307.9 313.9L308.9 313.9L309.7 314.2L310.6 314.7L311.5 315.6L312.4 316.5L313.4 317.2L314.2 317.9L315.1 318.7L316.0 319.3L317.0 319.6L317.9 320.2L318.9 320.8L319.9 321.4L320.8 322.1L321.9 322.9L322.9 323.1L324.0 323.0L325.1 323.1L326.2 323.3L327.2 323.4L328.2 323.0L329.2 322.2L330.2 321.5L331.1 321.0L332.0 320.2L332.9 319.2L333.8 318.5L334.6 318.1L335.4 318.2L336.2 319.1L336.8 320.4L337.5 321.6L338.3 322.3L339.2 322.8L340.1 322.9L341.2 322.8L342.3 322.7L343.4 322.5L344.5 322.3L345.6 322.2L346.6 322.3L347.6 322.7L348.6 323.3L349.5 324.0L350.3 324.9L351.2 325.9L352.1 326.5L352.8 327.0L353.5 328.0L354.2 329.1L354.8 330.2L355.5 331.2L356.2 332.0L356.9 332.6L357.6 332.9L358.4 332.8L359.2 332.3L360.0 331.5L360.9 330.6L361.7 329.8L362.5 328.6L363.2 327.3L363.7 326.5L364.2 325.5L364.7 324.4L365.1 323.3L365.6 322.1L366.0 320.9L366.5 319.9L366.9 319.0L367.3 318.3L367.8 317.8L368.5 317.9L369.1 318.5L369.8 319.4L370.5 320.6L371.2 321.9L371.8 322.9L372.4 323.6L373.2 324.5L373.9 325.6L374.5 326.6L375.3 327.1L376.1 327.1L376.9 327.0L377.8 326.9L378.7 326.7L379.7 326.1L380.7 325.4L381.6 324.7L382.4 324.0L383.2 323.3L384.0 322.7L384.7 322.3L385.5 321.7L386.3 320.9L387.1 320.2L388.0 319.5L389.0 318.8L389.9 318.2L390.8 317.3L391.8 316.6L392.7 316.1L393.5 315.5L394.3 314.6L395.1 313.6L395.9 312.7L396.7 312.0L397.5 311.3L398.2 311.1L399.5 311.0L400.7 310.9L401.9 311.0L403.0 310.6L404.3 310.0L405.5 310.2L406.7 309.8L407.1 309.1L407.5 308.4L407.9 307.5L408.3 306.5L408.8 305.4L409.2 304.3L409.6 303.2L410.1 302.1L410.5 301.2L410.9 300.5L411.5 299.4L412.1 298.3L412.8 297.3L413.4 296.6L414.0 295.7L414.6 294.8L415.1 293.8L415.6 292.7L416.1 291.4L416.5 290.2L416.8 289.2L417.2 288.5L417.6 288.0L418.2 288.1L418.9 289.5L419.5 291.2L420.1 291.6L420.4 290.8L420.7 290.0L420.9 289.0L421.2 287.9L421.5 286.7L421.8 285.4L422.0 284.2L422.3 283.0L422.6 282.0L422.9 280.9L423.2 279.8L423.5 278.7L423.8 277.7L424.1 276.6L424.4 275.6L424.7 274.6L425.1 273.7L425.5 272.7L425.9 271.7L426.3 270.7L426.8 269.8L427.2 268.9L427.6 267.9L428.1 267.0L428.5 266.1L428.9 265.2L429.3 264.2L429.7 263.0L430.2 261.9L430.6 261.0L431.0 260.1L431.4 259.3L431.8 258.6L432.7 257.8L433.6 257.2L434.4 256.5L435.2 255.7L435.6 255.2L435.9 254.3L436.1 253.3L436.4 252.1L436.6 250.9L436.9 249.7L437.2 248.6L437.5 247.5L437.8 246.4L438.1 245.1L438.4 243.8L438.7 242.6L439.0 241.5L439.3 240.5L439.6 239.8L439.9 239.2L440.4 239.4L440.9 240.6L441.4 242.2L441.9 243.5L442.7 244.9L443.5 246.5L444.4 246.4L444.7 245.5L445.0 244.5L445.3 243.4L445.6 242.2L445.9 241.0L446.1 239.7L446.4 238.6L446.7 237.7L446.9 237.1L448.3 235.9L449.3 236.8L450.3 238.0L451.2 237.9L452.3 236.9L453.3 236.1L454.3 235.6L455.3 234.9L455.9 233.9L456.5 232.8L457.0 231.8L457.5 231.2L458.4 230.4L459.4 229.5L460.7 229.0L462.0 229.5L463.2 229.9L464.4 229.5L465.0 228.7L465.6 227.6L466.3 226.4L466.9 225.4L467.4 224.5L468.5 226.0L468.9 226.9L469.3 227.9L469.8 229.2L470.4 230.6L470.7 231.3L471.1 232.2L471.5 233.1L471.9 234.1L472.3 235.1L472.7 236.0L473.1 237.0L473.4 238.0L473.8 239.1L474.1 239.8L474.3 240.6L474.6 241.4L475.0 242.5L475.4 244.1L475.6 244.8L475.8 245.7L476.0 246.6L476.3 247.5L476.5 248.5L476.8 249.5L477.0 250.6L477.3 251.7L477.5 252.9L477.8 254.0L478.1 255.1L478.4 256.2L478.6 257.3L478.9 258.3L479.1 259.3L479.4 260.2L479.7 261.3L480.1 262.4L480.4 263.4L480.8 264.5L481.1 265.5L481.5 266.6L481.8 267.5L482.1 268.5L482.5 269.4L482.8 270.3L483.1 271.2L483.4 272.2L483.7 273.3L484.0 274.4L484.2 275.4L484.5 276.5L484.7 277.5L485.0 278.6L485.2 279.6L485.4 280.6L485.7 281.6L485.9 282.6L486.1 283.4L486.4 284.3L486.8 285.5L487.2 286.5L487.6 287.6L487.9 288.6L488.3 289.6L488.7 290.5L489.1 291.5L489.5 292.4L489.9 293.5L490.3 294.5L490.6 295.5L491.0 296.5L491.4 297.5L491.8 298.5L492.1 299.5L492.5 300.4L493.0 301.6L493.5 302.6L493.9 303.6L494.4 304.6L494.9 305.6L495.5 306.5L496.2 307.4L497.0 308.2L497.8 309.0L498.6 309.9L499.5 310.6L500.3 311.1L501.1 311.7L502.0 312.4L502.9 313.2L503.7 313.9L504.5 314.8L505.3 315.5L506.1 316.0L506.8 316.6L507.6 317.4L508.5 318.2L509.2 319.0L510.0 320.1L510.9 320.9L511.8 321.5L512.7 322.4L513.5 323.6L514.3 324.4L515.0 324.7L516.3 324.3L517.4 323.9L518.7 324.7L519.2 325.1L519.7 325.6L520.3 326.5L520.9 327.4L521.5 328.4L522.2 329.5L522.8 330.6L523.5 331.4L524.2 332.1L524.9 332.5L525.7 332.5L526.6 331.9L527.5 331.2L528.4 330.4L529.4 329.5L530.3 328.5L531.2 327.6L532.1 327.2L533.0 327.4L533.9 327.6L534.9 327.5L535.8 327.5L536.7 328.3L537.5 329.4L538.4 330.1L539.3 330.1L540.2 329.9L541.2 329.8L542.2 329.8L543.2 329.3L544.3 328.3L545.3 327.5L546.3 327.2L547.3 327.3L548.1 327.8L548.9 328.7L549.6 329.6L550.4 330.6L551.2 331.7L552.0 332.5L552.8 333.0L553.6 333.5L554.5 333.9L555.4 334.1L556.3 334.0L557.3 333.8L558.3 333.5L559.3 333.2L560.3 332.8L561.4 332.3L562.4 331.6L563.5 331.2L564.4 330.9L565.4 330.5L566.4 330.3L567.4 330.2L568.4 329.7L569.5 329.0L570.5 328.5L571.5 328.1L572.4 327.7L573.4 327.7L574.2 328.0L575.3 328.5L576.2 329.2L577.1 330.0L577.9 330.8L578.7 331.5L579.6 332.1L580.4 332.4L581.4 332.6L582.3 332.7L583.2 332.6L584.3 332.4L585.3 332.3L586.4 331.6L587.4 330.5L588.3 329.7L589.1 329.1L589.9 328.7L590.4 328.4" fill="none" stroke="#ee1c1c" stroke-width="1.20" stroke-linejoin="round"/>
<g stroke="#000" stroke-width="2" fill="none">
<path d="M97 479V873M96 869H595"/>
<path d="M90.5 507.0H97"/>
<path d="M90.5 575.0H97"/>
<path d="M90.5 643.0H97"/>
<path d="M90.5 711.0H97"/>
<path d="M90.5 779.0H97"/>
<path d="M90.5 847.0H97"/>
<path d="M93.5 541.0H97"/>
<path d="M93.5 609.0H97"/>
<path d="M93.5 677.0H97"/>
<path d="M93.5 745.0H97"/>
<path d="M93.5 813.0H97"/>
<path d="M594.0 869V873.0"/>
<path d="M531.9 869V877.0"/>
<path d="M469.8 869V873.0"/>
<path d="M407.6 869V877.0"/>
<path d="M345.5 869V873.0"/>
<path d="M283.4 869V877.0"/>
<path d="M221.2 869V873.0"/>
<path d="M159.1 869V877.0"/>
<path d="M97.0 869V873.0"/>
</g>
<path d="M98.0 816.2L98.6 816.3L99.3 816.8L100.2 817.3L101.2 817.2L102.3 817.1L103.5 817.0L104.6 816.7L105.8 816.4L107.0 816.0L108.1 815.6L109.1 815.7L110.0 816.3L111.2 816.5L112.4 816.2L113.5 816.0L114.6 815.4L115.6 814.7L116.6 814.3L117.6 814.0L118.5 813.6L119.5 812.9L120.5 812.2L121.4 811.7L122.3 811.0L123.2 810.4L124.1 810.2L125.0 810.2L125.9 809.8L126.7 809.5L127.6 809.2L128.5 808.3L129.4 807.2L130.3 806.6L131.2 806.9L132.0 807.1L133.1 806.2L134.1 805.0L135.1 804.4L136.0 804.0L137.0 803.6L138.0 803.0L139.0 802.4L140.0 802.4L141.1 803.5L142.1 803.8L143.1 803.3L144.0 802.8L145.1 802.8L146.1 802.9L147.1 803.1L148.1 803.0L149.0 802.8L150.1 803.0L151.1 802.9L152.1 803.5L153.0 804.6L153.8 805.6L154.5 806.7L155.2 807.7L156.0 808.3L156.9 808.3L157.9 808.6L158.9 809.9L160.0 811.0L160.9 810.9L161.9 810.7L163.0 811.1L164.0 811.3L165.0 811.9L165.9 813.2L166.8 814.2L167.6 814.4L168.7 813.9L170.0 814.6L170.8 815.6L171.5 816.4L172.3 816.4L173.2 815.9L174.1 815.6L175.0 815.8L176.1 816.0L177.3 816.0L178.6 815.7L180.0 815.6L180.8 815.8L181.6 815.9L182.4 815.9L183.3 815.6L184.2 815.2L185.1 815.1L186.1 814.9L187.0 814.7L188.0 815.1L189.1 816.2L190.1 816.6L191.2 815.7L192.2 814.9L193.3 815.2L194.4 816.0L195.5 815.9L196.6 815.0L197.8 814.5L198.9 815.3L200.0 816.1L200.9 816.1L201.9 815.9L202.9 815.7L203.9 815.5L204.9 815.2L206.0 815.1L207.1 815.0L208.2 814.9L209.3 814.5L210.4 814.2L211.5 814.2L212.6 814.3L213.7 814.0L214.8 813.0L215.8 812.4L216.9 812.7L217.9 813.0L218.9 813.0L219.9 813.4L220.9 813.5L221.8 812.9L222.7 812.0L223.5 811.5L224.3 811.8L225.0 812.4L226.6 812.7L228.0 812.2L229.1 811.7L230.1 810.6L231.0 810.0L231.8 809.6L232.5 809.1L233.3 808.7L234.1 808.3L235.0 807.9L236.0 807.4L237.0 806.7L237.9 806.1L238.9 806.1L239.9 805.9L240.8 804.8L241.8 803.6L242.7 802.8L243.5 801.9L244.3 801.2L245.5 800.6L246.6 800.2L247.6 800.2L248.5 800.8L249.4 800.9L250.4 801.1L251.4 801.5L252.4 801.5L253.4 801.1L254.4 801.1L255.4 801.3L256.4 801.2L257.3 800.8L258.1 800.2L259.0 799.5L259.8 798.9L260.7 798.4L261.5 797.6L262.4 796.7L263.4 796.5L264.4 797.2L265.4 798.2L266.4 798.9L267.4 799.5L268.4 800.3L269.2 801.0L269.9 801.6L270.7 802.0L271.4 802.4L272.2 803.2L273.0 804.0L273.7 804.9L274.5 805.9L275.1 806.7L275.7 807.7L276.3 808.9L277.0 809.8L277.6 810.3L278.2 810.9L278.8 811.8L279.4 812.8L279.9 813.6L280.5 814.2L281.3 815.0L282.0 815.9L282.7 816.7L283.4 817.5L284.1 818.3L284.8 819.0L285.5 820.2L286.4 821.7L287.3 822.4L288.2 822.9L289.3 823.3L290.6 823.1L291.4 823.3L292.3 823.9L293.3 824.4L294.3 824.7L295.4 824.9L296.5 825.1L297.6 825.6L298.8 826.0L300.0 826.3L300.9 826.6L301.9 826.7L302.9 826.2L303.9 826.0L304.9 826.9L305.9 827.9L307.0 828.2L308.0 828.4L309.1 828.6L310.1 828.3L311.1 828.0L312.1 828.1L313.1 828.6L314.2 828.6L315.2 828.1L316.1 827.4L317.1 827.1L318.1 826.7L319.1 826.3L320.1 826.0L321.1 825.6L322.1 825.5L323.2 826.3L324.2 826.8L325.3 826.1L326.4 825.1L327.5 824.9L328.6 824.8L329.8 824.8L330.9 825.9L332.0 826.7L333.1 826.7L334.1 826.6L335.1 826.5L336.1 826.1L337.3 825.8L338.4 826.1L339.4 826.5L340.3 826.3L341.3 825.2L342.2 824.3L343.2 824.3L344.2 824.4L345.3 824.4L346.3 824.3L347.3 824.2L348.4 824.2L349.5 824.2L350.6 824.1L351.7 823.6L352.8 823.2L353.8 822.9L354.7 822.6L355.6 822.4L356.3 822.5L357.7 822.2L358.6 821.9L359.2 821.4L360.0 820.5L360.6 819.9L361.3 819.1L362.0 818.1L362.7 817.2L363.3 816.4L364.0 815.6L365.0 814.7L366.0 813.9L367.0 813.3L368.0 813.5L369.0 814.0L369.9 813.9L370.9 813.1L372.0 812.6L372.9 812.7L373.9 813.2L374.9 813.4L375.9 812.8L377.0 812.2L378.0 812.4L379.0 812.8L380.0 813.0L381.0 813.7L382.0 814.6L383.0 814.6L384.0 814.6L385.0 814.5L386.0 814.5L387.1 814.6L388.1 814.5L389.1 814.0L390.0 813.8L391.0 813.7L392.0 813.6L392.9 813.7L393.9 813.9L395.0 814.2L395.9 814.2L396.8 814.4L397.8 814.5L398.9 813.9L400.0 812.9L401.1 812.8L402.4 813.2L403.3 813.3L404.2 813.1L405.2 812.9L406.2 813.1L407.3 814.0L408.3 814.5L409.4 813.9L410.4 813.1L411.5 813.6L412.5 814.8L413.4 815.4L414.4 816.0L415.4 816.7L416.3 816.8L417.3 816.1L418.2 816.1L419.1 817.1L420.0 818.2L420.9 818.8L421.8 819.3L422.6 819.9L423.5 820.6L424.3 821.4L425.1 822.0L425.8 822.5L426.6 823.0L427.3 823.5L428.1 823.7L429.0 824.2L430.0 824.8L430.9 825.2L431.8 825.8L432.8 826.8L433.8 827.3L434.9 827.4L436.0 827.5L437.0 827.1L438.1 826.1L439.1 825.9L440.1 826.0L441.1 826.0L442.2 826.0L443.3 826.0L444.3 826.0L445.3 825.9L446.3 825.7L447.3 825.8L448.3 826.3L449.3 826.2L450.3 825.6L451.2 825.0L452.2 824.9L453.1 825.4L454.1 825.4L455.0 824.7L455.9 824.0L456.9 823.3L457.8 822.1L458.7 821.3L459.5 821.1L460.4 820.9L461.2 820.3L462.0 819.5L462.7 818.8L463.5 818.2L464.2 817.6L465.0 816.7L465.9 815.6L466.9 814.5L467.5 813.8L468.1 813.1L468.8 812.3L469.5 811.5L470.3 810.7L471.0 809.9L471.8 809.1L472.5 808.4L473.3 807.6L474.1 806.6L474.8 805.7L475.5 804.6L476.2 803.5L476.8 802.7L477.4 802.5L477.9 802.3L479.3 801.4L480.4 801.0L481.2 800.6L482.0 800.0L482.9 799.2L483.5 798.4L484.1 797.5L484.7 796.4L485.3 795.1L485.9 794.0L486.5 793.3L487.1 792.8L488.1 791.8L489.2 790.6L490.2 790.4L491.3 790.7L492.1 790.0L492.9 788.5L493.4 787.3L493.9 786.5L494.5 785.8L495.3 784.7L496.2 783.6L497.2 783.2L498.2 783.1L499.2 782.5L500.2 781.4L501.3 780.6L502.4 779.7L503.3 779.1L504.2 778.9L505.1 778.8L506.0 778.3L507.0 777.7L507.9 777.1L509.0 777.1L510.0 776.8L511.1 775.5L512.0 774.4L512.8 774.4L513.7 775.2L514.3 776.3L514.9 777.7L515.5 779.1L516.0 780.0L516.4 780.9L516.9 781.6L517.4 782.3L517.9 783.4L518.5 785.1L518.8 785.9L519.1 786.6L519.4 787.4L519.7 788.2L520.0 789.1L520.3 790.0L520.6 791.0L521.0 792.0L521.3 793.1L521.7 794.0L522.0 795.1L522.4 796.3L522.7 797.6L523.1 798.8L523.3 799.6L523.5 800.5L523.8 801.4L524.0 802.4L524.2 803.4L524.4 804.4L524.6 805.4L524.9 806.6L525.1 807.7L525.3 808.8L525.5 809.9L525.8 811.1L526.0 812.1L526.3 813.2L526.5 814.3L526.8 815.3L527.0 816.4L527.3 817.5L527.6 818.5L527.9 819.3L528.2 820.0L528.5 820.8L528.8 821.6L529.3 822.7L529.9 823.8L530.5 824.8L531.1 825.9L531.7 827.3L532.4 828.2L533.0 829.0L533.7 829.7L534.4 830.3L535.1 830.7L535.8 831.4L536.5 832.1L537.3 832.9L538.0 833.3L538.9 833.4L539.8 833.8L540.7 835.0L541.6 836.1L542.5 836.5L543.5 836.7L544.4 837.1L545.4 837.6L546.4 838.1L547.4 838.3L548.5 838.5L549.5 838.7L550.5 839.0L551.5 839.2L552.5 839.3L553.5 839.2L554.5 839.2L555.6 839.1L556.7 839.0L557.7 839.5L558.8 840.0L559.9 840.0L561.0 839.7L562.2 839.7L563.3 840.3L564.2 840.7L565.2 840.7L566.2 840.7L567.2 840.7L568.2 840.4L569.2 840.2L570.3 839.9L571.3 839.3L572.3 839.0L573.4 838.5L574.4 838.1L575.4 838.0L576.4 838.0L577.4 837.9L578.4 837.9L579.3 837.8L580.5 837.7L581.7 837.8L582.9 837.7L584.1 838.1L585.4 837.9L586.6 836.3L587.7 835.5L588.8 835.8L589.9 836.1L590.8 835.9L591.7 835.8L592.4 835.7L593.0 835.6" fill="none" stroke="#222" stroke-width="1.15" stroke-linejoin="round" stroke-dasharray="3.5 3"/>
<path d="M98.0 818.3L98.7 818.1L99.6 817.3L100.6 817.0L101.8 817.2L102.9 817.4L104.0 818.8L105.0 820.3L106.0 819.9L107.1 818.2L108.1 817.2L109.1 816.9L110.0 816.9L111.1 817.6L112.1 819.2L113.0 820.2L114.0 820.4L115.0 820.6L116.0 821.3L117.0 822.0L117.9 821.6L118.9 820.2L120.0 819.2L121.0 819.7L122.0 820.5L123.1 819.8L124.1 818.3L125.1 817.7L126.0 817.8L127.1 818.3L128.1 818.7L129.0 819.6L130.0 820.2L130.9 820.3L131.9 820.4L133.0 821.0L134.0 821.9L135.0 822.3L136.0 821.9L137.0 821.5L137.9 820.8L138.9 819.4L140.0 818.8L141.0 819.7L142.0 820.4L143.1 819.7L144.1 818.8L145.1 818.3L146.0 817.8L147.1 817.4L148.1 817.6L149.0 817.8L150.0 818.3L150.9 819.6L151.9 820.9L153.0 821.1L154.0 821.1L155.0 821.4L156.0 821.8L157.0 821.5L158.0 820.7L159.0 820.1L160.0 820.0L161.0 820.4L162.0 820.6L163.0 820.4L164.0 820.1L165.0 820.3L165.9 820.3L166.8 820.1L167.6 819.6L168.7 819.1L170.0 818.6L170.8 818.0L171.7 817.6L172.6 818.1L173.6 819.3L174.7 819.5L175.8 818.4L176.8 817.6L177.9 818.0L179.0 818.8L180.0 818.9L181.0 819.1L182.0 819.2L183.0 818.9L184.0 818.3L185.0 818.0L186.0 817.2L187.0 816.3L188.0 816.5L189.0 817.6L190.0 818.0L191.0 817.6L191.9 817.2L192.8 816.9L193.8 816.0L194.7 815.2L195.6 814.8L196.6 814.4L197.7 814.1L198.8 814.6L200.0 815.1L200.9 814.6L201.8 813.7L202.8 813.2L203.8 814.1L204.8 815.5L205.9 815.3L207.0 814.4L208.0 814.0L209.1 813.8L210.2 813.7L211.2 813.5L212.2 813.2L213.2 813.0L214.1 813.2L215.0 813.4L216.2 813.4L217.3 813.7L218.4 813.7L219.4 812.6L220.3 811.6L221.2 811.4L222.2 811.3L223.1 811.2L224.0 811.1L225.0 811.1L226.0 810.9L227.1 810.0L228.2 809.3L229.3 809.2L230.4 809.2L231.5 808.7L232.5 808.2L233.4 807.7L234.3 807.2L235.0 806.8L236.6 806.8L237.5 807.1L238.3 806.3L238.8 805.4L239.2 804.4L239.6 803.2L240.1 802.0L240.5 800.9L240.9 800.2L241.3 799.3L241.8 797.9L242.3 796.7L242.7 795.8L243.1 794.9L243.5 793.9L243.9 793.0L244.3 792.2L244.7 791.4L245.2 790.2L245.5 789.4L245.8 788.5L246.1 787.6L246.5 786.5L246.8 785.3L247.2 784.2L247.5 783.1L247.9 782.0L248.2 780.9L248.5 779.8L248.8 779.0L249.1 778.2L249.4 777.2L249.8 776.1L250.0 775.0L250.3 774.0L250.6 772.9L250.9 771.8L251.1 770.9L251.3 770.0L251.5 769.1L251.7 768.1L251.9 767.2L252.0 766.2L252.2 765.2L252.4 764.2L252.6 763.1L252.7 762.1L252.9 761.0L253.1 759.9L253.3 759.0L253.4 758.1L253.6 757.1L253.7 756.0L253.9 755.0L254.0 754.0L254.2 752.9L254.3 751.8L254.5 750.8L254.6 749.7L254.8 748.7L254.9 747.8L255.1 746.9L255.2 746.0L255.4 744.7L255.6 743.6L255.8 742.5L255.9 741.5L256.1 740.5L256.3 739.6L256.4 738.6L256.6 737.5L256.8 736.3L256.9 735.4L257.1 734.4L257.2 733.4L257.4 732.4L257.5 731.4L257.7 730.4L257.8 729.3L257.9 728.3L258.1 727.3L258.2 726.3L258.4 725.3L258.5 724.4L258.7 723.3L258.9 722.2L259.0 721.1L259.2 720.1L259.4 719.1L259.6 718.0L259.7 717.0L259.9 715.9L260.1 714.8L260.3 713.8L260.4 712.7L260.6 711.5L260.7 710.4L260.9 709.2L261.1 708.1L261.2 707.0L261.4 705.9L261.5 704.9L261.7 704.0L262.0 702.7L262.3 701.4L262.5 700.3L262.8 699.3L263.1 698.4L263.3 697.6L263.8 695.6L264.2 694.4L264.9 694.0L265.8 695.2L266.4 695.9L267.1 697.6L267.2 698.3L267.4 699.1L267.5 700.2L267.6 701.3L267.7 702.4L267.8 703.6L267.9 704.9L268.1 706.1L268.2 707.1L268.4 708.1L268.6 709.1L268.7 710.1L268.9 711.2L269.1 712.3L269.3 713.4L269.5 714.6L269.6 715.8L269.8 716.9L269.9 717.9L270.1 719.0L270.2 720.1L270.3 721.2L270.5 722.3L270.6 723.5L270.8 724.6L270.9 725.7L271.0 726.8L271.1 727.9L271.3 728.9L271.4 729.8L271.6 731.0L271.8 732.1L271.9 733.2L272.1 734.1L272.3 735.1L272.5 736.1L272.6 737.2L272.8 738.4L272.9 739.3L273.0 740.3L273.2 741.4L273.3 742.4L273.4 743.5L273.5 744.6L273.6 745.8L273.7 746.9L273.8 748.1L274.0 749.2L274.1 750.3L274.2 751.4L274.3 752.4L274.5 753.5L274.6 754.6L274.7 755.7L274.9 756.8L275.0 757.9L275.2 759.0L275.3 760.1L275.4 761.1L275.6 762.2L275.7 763.2L275.9 764.3L276.0 765.5L276.2 766.6L276.3 767.7L276.5 768.8L276.6 769.9L276.8 770.9L276.9 772.0L277.1 773.0L277.3 774.0L277.5 775.2L277.7 776.3L278.0 777.4L278.2 778.5L278.5 779.6L278.7 780.6L279.0 781.6L279.2 782.6L279.4 783.5L279.7 784.7L280.0 785.7L280.3 786.6L280.6 787.6L280.8 788.7L281.1 790.0L281.2 790.9L281.3 791.8L281.4 792.8L281.5 793.9L281.5 795.0L281.6 796.1L281.8 797.2L281.9 798.2L282.2 799.1L282.5 799.9L282.9 800.9L283.4 801.9L284.0 802.8L284.6 803.8L285.3 804.6L285.9 805.1L286.6 805.3L287.3 806.1L287.9 807.2L288.5 808.2L289.3 808.9L290.0 809.5L290.7 810.7L291.4 812.2L292.1 813.1L292.9 813.1L293.6 813.1L294.5 814.1L295.3 815.3L296.1 816.0L297.0 816.7L298.1 817.6L299.2 817.9L300.0 818.1L300.8 818.4L301.7 818.3L302.5 817.8L303.5 818.0L304.5 818.9L305.7 819.6L306.9 819.4L308.4 819.4L309.2 819.8L310.1 820.3L311.1 820.7L312.1 821.8L313.1 822.5L314.2 822.6L315.4 822.7L316.5 822.3L317.7 821.0L318.8 821.0L320.0 822.0L321.1 822.4L322.2 823.1L323.2 823.6L324.3 823.4L325.2 822.9L326.1 823.0L326.9 823.8L328.2 825.4L329.3 825.9L330.3 826.5L331.2 826.9L332.0 826.9L332.8 827.2L333.6 827.6L334.3 827.8L335.1 828.2L336.0 829.1L337.0 830.3L338.0 830.8L339.0 830.7L340.0 831.0L341.0 831.0L342.0 831.0L343.0 831.5L344.0 832.0L345.0 832.3L346.0 832.4L347.0 832.6L348.1 833.5L349.1 834.9L350.1 835.1L351.2 834.7L352.2 834.6L353.4 835.1L354.5 835.6L355.5 835.9L356.4 836.3L357.4 836.6L358.4 837.1L359.5 837.6L360.5 837.3L361.5 836.2L362.6 836.0L363.7 836.6L364.9 837.0L366.0 837.8L366.9 838.7L367.9 838.9L368.9 838.8L369.9 838.8L371.0 838.5L372.0 837.9L373.1 838.0L374.1 838.6L375.2 838.9L376.2 838.5L377.2 837.8L378.2 837.7L379.1 837.7L380.0 837.7L381.2 837.6L382.3 837.4L383.3 837.3L384.3 837.8L385.2 838.1L386.2 838.0L387.1 837.7L388.1 837.6L389.0 837.8L390.0 838.4L391.0 838.7L391.9 839.5L392.9 840.4L393.8 840.4L394.8 839.4L395.8 838.9L396.8 839.6L397.8 840.6L398.9 841.1L400.0 841.9L400.9 842.2L401.9 842.1L402.8 841.8L403.8 841.8L404.8 841.8L405.9 841.8L406.9 842.1L408.0 842.7L409.1 842.6L410.1 841.4L411.2 840.9L412.3 842.2L413.4 843.9L414.3 844.0L415.3 843.7L416.3 843.7L417.3 844.1L418.3 844.5L419.3 844.8L420.3 845.1L421.3 845.4L422.3 844.8L423.4 843.8L424.4 843.8L425.3 843.9L426.3 844.0L427.3 844.1L428.2 844.3L429.2 844.4L430.3 844.8L431.3 845.1L432.3 845.1L433.2 845.6L434.2 845.7L435.1 845.4L436.1 845.1L437.1 844.7L438.0 843.6L439.0 842.8L440.1 842.7L441.1 842.9L442.1 842.8L443.1 842.9L444.2 842.9L445.2 842.4L446.3 841.6L447.4 841.5L448.4 842.6L449.5 843.1L450.6 842.9L451.7 842.8L452.7 842.5L453.8 842.0L454.8 841.7L455.8 841.7L456.9 841.8L457.9 841.5L458.9 841.1L460.0 840.7L461.0 840.2L462.0 839.8L463.0 839.3L464.0 838.4L464.9 837.9L465.9 837.5L466.8 837.2L467.8 836.8L468.7 836.4L469.7 836.0L470.7 835.4L471.7 834.7L472.7 834.8L473.7 835.9L474.7 835.8L475.6 834.5L476.5 833.3L477.4 832.7L478.3 831.8L479.1 831.2L479.8 830.9L480.6 830.5L481.3 829.7L481.9 828.7L482.6 827.8L483.1 827.1L483.7 826.4L484.2 825.4L484.7 824.4L485.2 823.5L485.6 822.6L486.0 821.7L486.6 820.7L487.0 819.8L487.4 818.9L487.7 818.0L488.0 817.0L488.3 816.0L488.7 814.8L489.0 814.0L489.3 813.1L489.6 812.2L489.9 811.1L490.2 810.0L490.5 808.9L490.8 807.9L491.0 806.9L491.3 806.0L491.5 805.1L491.7 804.0L491.9 803.0L492.0 802.0L492.1 801.0L492.3 800.1L492.4 799.1L492.5 798.0L492.7 796.8L492.9 796.0L493.0 795.1L493.2 794.3L493.4 793.3L493.6 792.3L493.8 791.3L494.0 790.3L494.2 789.2L494.4 788.2L494.6 787.1L494.8 786.0L495.0 785.1L495.1 784.3L495.3 783.4L495.5 782.5L495.7 781.6L495.8 780.6L496.0 779.7L496.2 778.7L496.4 777.7L496.5 776.6L496.7 775.5L496.9 774.4L497.0 773.2L497.1 772.4L497.2 771.5L497.3 770.5L497.4 769.6L497.5 768.6L497.5 767.6L497.6 766.6L497.7 765.6L497.8 764.6L497.9 763.5L498.0 762.5L498.0 761.4L498.1 760.3L498.2 759.2L498.3 758.1L498.4 757.0L498.4 756.0L498.5 754.9L498.6 753.8L498.7 752.8L498.8 751.9L498.8 750.9L498.9 750.0L499.0 749.1L499.1 748.1L499.1 747.2L499.2 746.2L499.3 745.3L499.4 744.3L499.5 743.4L499.5 742.4L499.6 741.4L499.7 740.3L499.8 739.3L499.8 738.2L499.9 737.1L500.0 736.0L500.1 734.8L500.1 733.6L500.2 732.3L500.2 731.4L500.3 730.6L500.3 729.6L500.4 728.7L500.4 727.7L500.5 726.7L500.5 725.7L500.6 724.7L500.6 723.7L500.7 722.6L500.7 721.6L500.8 720.5L500.8 719.4L500.9 718.3L500.9 717.2L501.0 716.1L501.0 715.0L501.0 713.9L501.1 712.8L501.1 711.8L501.2 710.7L501.2 709.6L501.3 708.6L501.3 707.5L501.3 706.5L501.4 705.5L501.4 704.5L501.5 703.6L501.5 702.6L501.5 701.7L501.6 700.8L501.6 700.0L501.6 698.8L501.7 697.6L501.7 696.4L501.8 695.3L501.8 694.2L501.8 693.1L501.9 692.1L501.9 691.1L501.9 690.1L502.0 689.1L502.0 688.2L502.0 687.2L502.1 686.3L502.1 685.4L502.1 684.5L502.1 683.6L502.2 682.7L502.2 681.8L502.2 680.8L502.3 679.9L502.3 679.0L502.3 677.9L502.4 676.8L502.4 675.8L502.5 674.7L502.5 673.7L502.6 672.7L502.6 671.7L502.7 670.7L502.7 669.7L502.8 668.7L502.8 667.7L502.9 666.7L502.9 665.7L503.0 664.7L503.0 663.7L503.1 662.7L503.1 661.7L503.2 660.7L503.2 659.7L503.3 658.7L503.3 657.7L503.4 656.7L503.4 655.7L503.5 654.7L503.5 653.8L503.6 652.8L503.6 651.8L503.7 650.8L503.7 649.8L503.8 648.8L503.8 647.8L503.9 646.7L503.9 645.7L504.0 644.6L504.0 643.5L504.1 642.4L504.1 641.5L504.2 640.6L504.2 639.7L504.3 638.8L504.3 637.9L504.4 637.1L504.4 636.2L504.4 635.3L504.5 634.4L504.5 633.5L504.6 632.6L504.6 631.6L504.7 630.6L504.7 629.6L504.7 628.6L504.8 627.5L504.8 626.4L504.9 625.2L504.9 624.0L505.0 622.7L505.0 621.4L505.1 620.0L505.1 619.2L505.2 618.4L505.2 617.5L505.2 616.6L505.3 615.6L505.3 614.6L505.3 613.6L505.4 612.6L505.4 611.5L505.4 610.4L505.5 609.3L505.5 608.2L505.6 607.1L505.6 605.9L505.6 604.8L505.7 603.6L505.7 602.4L505.7 601.3L505.8 600.1L505.8 598.9L505.9 597.8L505.9 596.6L505.9 595.5L506.0 594.4L506.0 593.2L506.0 592.1L506.1 591.1L506.1 590.0L506.2 589.0L506.2 588.0L506.2 587.0L506.3 586.1L506.3 585.2L506.3 584.3L506.4 583.5L506.4 582.7L506.4 581.9L506.4 581.2L506.5 580.6L506.5 580.0L506.7 576.9L506.8 575.8L507.0 575.7L507.1 575.7L507.2 574.5L507.2 573.7L507.3 572.9L507.3 572.0L507.4 571.0L507.4 569.9L507.5 568.8L507.5 567.7L507.6 566.6L507.6 565.4L507.7 564.3L507.7 563.1L507.8 562.0L507.8 560.9L507.9 559.8L507.9 558.7L508.0 557.7L508.0 556.6L508.1 555.5L508.1 554.5L508.2 553.4L508.2 552.3L508.3 551.3L508.3 550.2L508.4 549.1L508.4 548.1L508.5 547.1L508.5 546.1L508.6 545.1L508.7 544.0L508.7 542.8L508.8 541.7L508.8 540.5L508.9 539.4L509.0 538.3L509.0 537.2L509.1 536.2L509.1 535.2L509.2 534.2L509.2 533.3L509.3 532.5L509.4 531.2L509.5 530.0L509.6 528.9L509.7 527.9L509.8 527.0L509.9 526.2L510.0 525.4L510.5 523.5L511.0 522.1L511.8 520.9L512.3 522.7L512.8 524.3L513.0 524.9L513.2 525.6L513.4 526.7L513.5 528.3L513.5 529.0L513.6 529.8L513.6 530.7L513.6 531.7L513.7 532.6L513.7 533.7L513.7 534.8L513.8 535.9L513.8 537.1L513.8 538.3L513.9 539.5L513.9 540.4L514.0 541.3L514.1 542.2L514.1 543.1L514.2 544.1L514.2 545.1L514.3 546.1L514.4 547.1L514.5 548.1L514.5 549.2L514.6 550.2L514.7 551.3L514.7 552.4L514.8 553.5L514.8 554.5L514.9 555.6L514.9 556.6L515.0 557.6L515.0 558.7L515.1 559.7L515.1 560.8L515.2 562.0L515.2 563.1L515.2 564.2L515.3 565.3L515.3 566.4L515.4 567.5L515.4 568.5L515.4 569.6L515.5 570.5L515.5 571.4L515.5 572.3L515.6 573.1L515.6 573.8L515.7 575.2L515.7 575.7L515.8 575.8L515.8 576.2L515.9 577.4L516.0 580.0L516.0 580.6L516.0 581.3L516.1 582.0L516.1 582.8L516.1 583.6L516.1 584.4L516.1 585.3L516.2 586.2L516.2 587.1L516.2 588.1L516.2 589.1L516.3 590.2L516.3 591.2L516.3 592.3L516.3 593.4L516.4 594.5L516.4 595.6L516.4 596.7L516.5 597.9L516.5 599.0L516.5 600.2L516.5 601.3L516.6 602.5L516.6 603.6L516.6 604.7L516.6 605.8L516.7 606.9L516.7 608.0L516.7 609.1L516.8 610.1L516.8 611.2L516.8 612.2L516.8 613.1L516.9 614.1L516.9 615.0L516.9 616.1L517.0 617.3L517.0 618.4L517.0 619.5L517.1 620.5L517.1 621.6L517.1 622.6L517.2 623.7L517.2 624.7L517.3 625.7L517.3 626.7L517.3 627.7L517.4 628.7L517.4 629.7L517.4 630.6L517.5 631.6L517.5 632.6L517.6 633.5L517.6 634.5L517.6 635.5L517.7 636.4L517.7 637.4L517.7 638.4L517.8 639.4L517.8 640.4L517.9 641.4L517.9 642.4L517.9 643.4L518.0 644.4L518.0 645.4L518.1 646.4L518.1 647.5L518.1 648.5L518.2 649.5L518.2 650.5L518.3 651.5L518.3 652.5L518.4 653.5L518.4 654.5L518.4 655.5L518.5 656.5L518.5 657.5L518.6 658.5L518.6 659.5L518.7 660.5L518.7 661.6L518.7 662.6L518.8 663.6L518.8 664.6L518.9 665.7L518.9 666.7L518.9 667.8L519.0 668.8L519.0 669.9L519.0 670.9L519.1 671.8L519.1 672.8L519.1 673.8L519.1 674.7L519.2 675.7L519.2 676.7L519.2 677.7L519.2 678.7L519.2 679.7L519.3 680.7L519.3 681.6L519.3 682.6L519.3 683.6L519.3 684.7L519.3 685.7L519.4 686.7L519.4 687.7L519.4 688.7L519.4 689.7L519.4 690.7L519.5 691.7L519.5 692.8L519.5 693.8L519.5 694.8L519.6 695.9L519.6 696.9L519.6 697.9L519.7 699.0L519.7 700.0L519.7 701.0L519.8 702.0L519.8 703.0L519.8 704.0L519.9 705.0L519.9 706.0L520.0 707.0L520.0 708.0L520.1 709.1L520.1 710.1L520.2 711.1L520.2 712.2L520.2 713.2L520.3 714.3L520.3 715.3L520.4 716.3L520.4 717.4L520.5 718.4L520.5 719.5L520.6 720.5L520.6 721.5L520.7 722.5L520.7 723.5L520.8 724.6L520.9 725.6L520.9 726.5L521.0 727.5L521.0 728.5L521.1 729.5L521.1 730.4L521.2 731.4L521.2 732.3L521.3 733.4L521.3 734.6L521.4 735.7L521.4 736.8L521.5 737.9L521.6 739.0L521.6 740.1L521.7 741.2L521.7 742.2L521.8 743.3L521.9 744.3L521.9 745.4L522.0 746.4L522.1 747.5L522.1 748.5L522.2 749.5L522.2 750.5L522.3 751.5L522.4 752.5L522.4 753.5L522.5 754.4L522.6 755.4L522.6 756.4L522.7 757.3L522.7 758.3L522.8 759.2L522.9 760.3L523.0 761.5L523.0 762.6L523.1 763.7L523.2 764.7L523.3 765.8L523.3 766.8L523.4 767.9L523.5 768.9L523.6 769.9L523.6 770.9L523.7 771.9L523.8 772.9L523.9 773.9L523.9 774.9L524.0 775.9L524.1 776.8L524.2 777.8L524.2 778.8L524.3 779.7L524.4 780.7L524.5 781.8L524.6 782.9L524.6 783.9L524.7 785.0L524.8 786.1L524.9 787.2L525.0 788.3L525.1 789.4L525.1 790.4L525.2 791.5L525.3 792.5L525.4 793.5L525.5 794.5L525.6 795.5L525.6 796.4L525.7 797.4L525.8 798.3L525.9 799.2L526.0 800.0L526.2 801.3L526.3 802.4L526.5 803.5L526.6 804.6L526.8 805.6L527.0 806.6L527.1 807.5L527.3 808.5L527.5 809.4L527.7 810.2L527.8 811.1L528.0 811.9L528.2 813.0L528.4 814.1L528.6 815.2L528.8 816.1L529.0 817.1L529.2 818.1L529.4 819.0L529.6 820.0L529.8 820.9L530.0 821.8L530.2 822.8L530.5 823.9L530.7 824.9L530.9 825.9L531.2 827.0L531.4 827.9L531.7 828.9L532.0 829.9L532.3 830.9L532.6 832.0L532.9 833.0L533.2 834.0L533.5 835.0L533.9 836.0L534.3 837.0L534.7 837.9L535.2 838.8L535.7 839.7L536.2 840.5L536.8 841.4L537.4 842.1L538.1 842.9L538.8 843.8L539.5 845.1L540.3 846.0L541.0 846.5L541.8 847.0L542.6 847.9L543.4 848.9L544.3 849.7L545.2 850.3L546.1 850.9L547.1 851.1L548.0 851.4L549.0 851.8L549.9 852.1L550.9 852.6L551.8 853.6L552.8 854.5L553.8 854.8L554.7 855.1L555.6 855.2L556.6 855.3L557.6 855.4L558.7 855.4L559.8 855.1L561.0 855.1L561.9 855.4L562.9 855.6L563.9 855.6L564.9 854.8L565.9 854.5L567.0 855.1L568.1 855.8L569.2 856.4L570.3 857.5L571.4 857.7L572.5 857.1L573.6 856.9L574.7 856.6L575.8 856.3L576.9 856.7L578.1 857.5L579.2 857.9L580.4 858.9L581.6 859.1L582.7 857.9L583.9 857.2L584.9 857.3L585.9 857.4L586.9 857.5L587.7 858.0L588.5 858.4L590.1 858.5L591.2 858.1L592.0 856.7L592.5 855.4L593.0 854.8" fill="none" stroke="#1a1a1a" stroke-width="1.20" stroke-linejoin="round"/>
<path d="M98.0 816.3L98.7 816.4L99.6 816.7L100.6 816.9L101.8 817.1L102.9 817.1L104.0 816.6L105.0 815.1L106.0 814.5L107.0 815.0L108.0 815.4L109.0 815.2L110.0 814.9L111.0 815.0L112.0 815.5L113.0 816.1L114.0 816.2L115.0 815.9L116.0 815.9L117.0 815.9L118.0 815.9L119.0 815.8L120.0 816.0L121.0 815.9L122.0 815.5L123.0 815.3L124.0 815.6L125.0 816.2L126.0 816.7L127.0 816.3L128.0 815.6L129.0 815.4L130.0 815.2L131.0 814.8L132.0 815.1L133.0 815.7L134.0 815.5L135.0 815.1L135.9 815.3L136.9 815.8L137.9 816.4L138.9 817.0L140.0 817.6L140.9 817.7L141.9 817.1L142.9 816.4L143.9 816.0L144.9 815.2L146.0 814.8L147.0 815.6L148.0 816.7L149.0 816.9L150.0 816.8L151.0 816.9L152.0 817.3L153.0 817.8L154.0 818.1L155.0 818.3L156.0 818.4L157.0 818.8L158.0 819.3L159.0 819.1L160.0 817.9L161.0 817.0L162.0 817.2L163.0 817.7L164.0 817.7L165.0 817.1L166.0 816.6L167.0 816.6L168.0 817.0L169.0 817.2L170.0 817.3L171.0 817.5L172.0 817.4L173.0 816.8L174.0 816.5L174.9 816.3L175.9 816.0L176.9 815.8L177.9 816.4L178.9 816.9L180.0 817.1L180.9 817.4L181.9 817.5L182.9 817.2L183.9 816.8L184.9 816.6L185.9 816.2L186.9 815.8L188.0 815.9L189.0 816.0L190.0 815.8L191.0 815.0L192.0 814.3L192.9 814.1L193.9 814.0L194.9 813.8L195.9 813.8L196.9 813.9L197.9 814.0L198.9 814.7L200.0 814.9L200.9 814.1L201.9 813.0L202.8 812.6L203.8 812.3L204.8 812.0L205.8 811.9L206.8 811.7L207.9 811.5L208.9 811.2L209.9 810.9L211.0 811.0L212.0 811.2L213.0 811.2L214.0 811.5L215.0 811.7L216.0 811.8L217.1 812.1L218.1 812.0L219.1 811.1L220.2 810.3L221.2 810.1L222.2 810.0L223.2 809.9L224.1 809.7L225.0 809.4L226.1 809.2L227.3 809.0L228.4 808.9L229.5 809.4L230.5 809.8L231.5 809.4L232.5 808.9L233.4 808.5L234.2 808.0L235.0 807.4L236.3 806.9L237.3 806.5L238.2 806.2L239.1 806.4L240.0 806.5L240.5 805.8L241.1 804.9L241.6 803.9L242.2 803.0L242.8 802.0L243.4 800.9L243.9 799.5L244.4 798.5L244.9 797.7L245.3 797.1L246.0 796.0L246.6 795.3L247.1 794.5L247.5 793.5L248.0 792.6L248.6 791.9L249.2 791.4L249.8 790.7L250.4 789.0L250.7 788.1L251.0 787.3L251.3 786.5L251.6 785.6L251.9 784.5L252.2 783.3L252.5 782.2L252.8 781.3L253.1 780.4L253.4 779.2L253.7 778.0L254.0 776.9L254.3 776.0L254.6 775.0L254.9 773.9L255.2 773.0L255.6 771.9L256.1 771.0L256.6 770.0L257.0 768.9L257.4 767.6L257.7 766.7L257.9 765.6L258.1 764.5L258.3 763.3L258.6 762.2L258.8 761.2L259.0 760.1L259.2 759.0L259.5 757.8L259.7 756.7L259.9 755.6L260.1 754.5L260.4 753.5L260.6 752.5L260.9 751.3L261.1 750.1L261.4 748.9L261.7 747.8L261.9 746.8L262.2 745.9L262.6 744.5L263.0 743.5L263.4 742.5L263.8 741.5L265.0 739.7L266.0 740.4L267.0 741.2L268.1 742.3L268.4 742.8L268.7 743.5L269.1 744.4L269.5 745.6L269.8 746.9L270.0 747.9L270.3 749.0L270.5 750.0L270.7 751.1L270.9 752.2L271.2 753.4L271.4 754.6L271.6 755.6L271.8 756.7L272.0 757.8L272.2 758.8L272.4 759.9L272.6 761.0L272.8 762.1L273.0 763.2L273.2 764.3L273.4 765.4L273.6 766.4L273.8 767.5L274.0 768.6L274.2 769.6L274.4 770.7L274.6 771.8L274.8 772.9L275.0 774.0L275.2 775.0L275.4 776.1L275.6 777.2L275.8 778.2L276.0 779.3L276.2 780.4L276.4 781.4L276.5 782.4L276.7 783.5L276.9 784.6L277.0 785.7L277.2 786.7L277.4 787.9L277.6 788.9L277.8 790.0L278.0 791.0L278.2 792.0L278.4 793.0L278.6 794.0L278.9 795.0L279.1 796.0L279.4 797.1L279.7 798.1L280.1 799.2L280.5 800.3L280.9 801.3L281.4 802.2L281.8 803.1L282.4 804.1L282.9 805.1L283.4 806.1L284.0 807.3L284.6 808.2L285.2 808.5L285.9 808.9L286.5 809.7L287.3 811.1L288.2 811.9L289.1 812.2L290.1 812.5L291.1 813.3L292.0 814.1L292.9 814.7L293.8 815.5L294.6 816.1L295.8 815.8L296.8 815.4L297.8 816.1L298.8 817.6L300.0 818.1L300.8 817.1L301.7 816.4L302.5 816.8L303.4 817.8L304.4 818.6L305.5 818.9L306.8 819.2L308.4 819.1L309.2 818.9L310.0 819.2L310.9 819.9L311.8 820.4L312.8 820.6L313.8 820.6L314.9 820.8L315.9 821.0L317.0 821.2L318.1 821.7L319.2 822.4L320.4 822.3L321.5 821.1L322.6 821.0L323.7 821.9L324.8 822.5L325.9 823.1L326.9 824.0L327.9 824.0L328.9 823.0L330.0 822.7L331.0 823.7L332.0 825.0L333.0 825.1L334.1 824.1L335.1 823.7L336.1 824.4L337.1 825.3L338.1 825.4L339.2 824.7L340.2 824.3L341.2 824.7L342.2 825.3L343.3 825.5L344.3 825.6L345.3 825.7L346.3 825.4L347.3 824.9L348.4 825.0L349.4 826.1L350.4 826.9L351.4 826.7L352.5 826.4L353.5 826.3L354.5 826.7L355.5 827.0L356.5 826.9L357.6 826.7L358.6 826.7L359.6 826.7L360.6 826.8L361.7 826.9L362.7 826.9L363.7 827.0L364.7 826.8L365.7 826.6L366.8 827.0L367.8 828.2L368.8 828.8L369.9 827.9L370.9 826.8L371.9 827.3L372.9 828.9L374.0 829.6L375.0 829.8L376.0 829.9L377.0 829.9L378.0 829.4L379.1 829.3L380.1 829.8L381.1 830.3L382.1 830.4L383.2 830.3L384.3 830.2L385.3 830.1L386.4 830.0L387.5 829.8L388.6 829.1L389.7 829.0L390.8 829.0L391.9 829.0L393.0 828.9L394.0 829.0L395.1 828.9L396.1 828.8L397.1 828.8L398.1 829.5L399.1 830.7L400.0 830.9L401.2 830.0L402.3 829.5L403.3 829.9L404.3 830.2L405.2 830.6L406.2 831.0L407.1 831.4L408.1 832.1L409.0 833.1L410.1 833.5L411.1 833.2L412.2 833.1L413.4 833.4L414.3 833.7L415.2 833.7L416.2 833.3L417.2 833.1L418.2 833.2L419.2 833.3L420.2 833.3L421.3 833.1L422.3 832.9L423.4 833.0L424.5 833.3L425.6 833.4L426.6 833.5L427.7 833.6L428.8 834.3L429.8 835.3L430.9 835.3L431.9 834.7L432.9 834.4L434.0 834.0L435.1 833.3L436.2 833.5L437.3 834.2L438.4 834.4L439.5 833.8L440.6 833.4L441.7 833.9L442.8 834.7L443.8 834.7L444.9 834.5L445.9 834.4L446.8 834.8L447.8 835.4L448.7 835.6L449.5 834.9L450.3 834.0L451.7 833.8L453.0 834.9L454.1 834.9L455.1 833.7L456.0 832.8L456.9 833.0L457.8 833.8L458.6 834.2L459.5 833.6L460.5 832.6L461.5 831.9L462.5 830.5L463.4 829.4L464.3 829.6L465.2 830.2L466.1 829.8L466.9 828.7L468.2 827.6L469.3 827.4L470.4 827.3L471.4 826.8L472.4 826.2L473.4 825.7L474.2 825.9L475.1 825.5L476.1 823.8L477.1 822.6L478.2 822.9L479.3 823.8L480.4 823.4L481.6 822.2L482.5 821.6L483.4 821.3L484.3 820.7L485.3 819.4L486.1 818.3L486.9 817.4L487.5 816.7L488.1 816.0L488.4 815.4L488.6 814.6L489.0 813.3L489.3 812.4L489.7 811.4L490.2 810.1L490.6 809.0L491.1 808.2L491.5 807.4L492.0 806.4L492.6 805.6L493.1 804.8L493.7 803.7L494.3 802.7L494.9 801.5L495.4 799.8L495.6 799.2L495.7 798.5L495.9 797.7L496.0 796.8L496.2 795.9L496.3 794.9L496.5 794.0L496.6 792.9L496.8 791.9L496.9 790.8L497.0 789.7L497.2 788.6L497.3 787.4L497.5 786.3L497.6 785.1L497.7 784.0L497.8 782.9L498.0 781.8L498.1 780.7L498.2 779.7L498.3 778.8L498.4 777.8L498.5 776.8L498.6 775.9L498.7 774.9L498.8 773.9L498.9 772.9L499.0 771.9L499.1 770.9L499.2 769.9L499.3 768.9L499.4 767.9L499.5 766.8L499.6 765.8L499.7 764.8L499.8 763.7L499.9 762.6L500.0 761.5L500.1 760.3L500.2 759.2L500.3 758.3L500.4 757.3L500.5 756.4L500.5 755.4L500.6 754.4L500.7 753.5L500.8 752.5L500.9 751.5L501.0 750.5L501.1 749.5L501.1 748.5L501.2 747.5L501.3 746.4L501.4 745.4L501.5 744.3L501.6 743.3L501.7 742.2L501.7 741.2L501.8 740.1L501.9 739.0L502.0 737.9L502.1 736.8L502.2 735.7L502.2 734.6L502.3 733.4L502.4 732.3L502.5 731.4L502.5 730.4L502.6 729.4L502.7 728.4L502.7 727.4L502.8 726.3L502.9 725.2L502.9 724.1L503.0 723.0L503.1 721.9L503.1 720.8L503.2 719.7L503.2 718.6L503.3 717.4L503.4 716.3L503.4 715.2L503.5 714.1L503.6 713.0L503.6 711.9L503.7 710.8L503.7 709.8L503.8 708.8L503.9 707.8L503.9 706.8L504.0 705.8L504.0 704.9L504.1 704.0L504.1 703.1L504.2 702.3L504.2 701.5L504.3 700.7L504.3 700.0L504.4 698.2L504.5 696.7L504.6 695.5L504.6 694.5L504.7 693.6L504.7 692.8L504.8 692.1L504.8 691.3L504.9 690.5L505.0 689.4L505.1 688.2L505.2 687.4L505.3 686.5L505.3 685.6L505.4 684.6L505.5 683.6L505.6 682.6L505.7 681.6L505.8 680.6L505.9 679.6L506.0 678.5L506.2 677.4L506.3 676.4L506.4 675.3L506.5 674.2L506.6 673.1L506.7 672.0L506.8 671.0L506.9 669.9L507.0 668.9L507.1 667.9L507.2 667.0L507.3 666.0L507.4 665.0L507.5 663.9L507.5 662.9L507.6 661.9L507.7 660.9L507.8 659.9L507.9 658.8L508.0 657.8L508.1 656.8L508.2 655.8L508.3 654.7L508.4 653.7L508.5 652.7L508.5 651.7L508.6 650.8L508.7 649.8L508.8 648.7L508.9 647.6L509.0 646.5L509.0 645.4L509.1 644.3L509.2 643.1L509.3 642.0L509.4 640.9L509.4 639.8L509.5 638.7L509.6 637.7L509.7 636.7L509.7 635.7L509.8 634.7L509.9 633.9L510.0 633.0L510.0 632.2L510.1 631.5L510.3 629.7L510.5 628.3L510.7 627.2L510.9 626.3L511.0 625.5L511.2 624.7L511.7 623.0L512.2 622.5L512.7 623.6L513.2 625.6L513.3 626.3L513.5 627.1L513.6 627.9L513.7 628.9L513.9 630.2L514.0 631.6L514.2 633.3L514.3 634.1L514.3 634.9L514.4 635.7L514.5 636.7L514.6 637.6L514.6 638.6L514.7 639.6L514.8 640.7L514.9 641.8L515.0 642.9L515.0 644.0L515.1 645.1L515.2 646.2L515.3 647.3L515.4 648.4L515.4 649.5L515.5 650.6L515.6 651.6L515.7 652.6L515.7 653.6L515.8 654.6L515.9 655.7L516.0 656.7L516.0 657.7L516.1 658.7L516.2 659.7L516.2 660.7L516.3 661.8L516.4 662.8L516.5 663.8L516.5 664.8L516.6 665.8L516.7 666.8L516.8 667.9L516.8 668.9L516.9 669.9L517.0 670.9L517.1 672.0L517.1 673.0L517.2 674.1L517.3 675.2L517.4 676.2L517.5 677.3L517.6 678.4L517.6 679.5L517.7 680.5L517.8 681.5L517.9 682.6L518.0 683.6L518.0 684.6L518.1 685.5L518.2 686.5L518.2 687.3L518.3 688.2L518.4 689.4L518.4 690.5L518.5 691.3L518.5 692.1L518.6 692.8L518.6 693.6L518.6 694.5L518.7 695.5L518.7 696.7L518.8 698.2L518.9 700.0L518.9 700.7L519.0 701.5L519.0 702.3L519.1 703.1L519.1 704.0L519.2 704.9L519.2 705.8L519.2 706.8L519.3 707.7L519.4 708.8L519.4 709.8L519.5 710.9L519.5 711.9L519.6 713.0L519.6 714.1L519.7 715.2L519.7 716.3L519.8 717.4L519.9 718.6L519.9 719.7L520.0 720.8L520.0 721.9L520.1 723.0L520.1 724.1L520.2 725.2L520.3 726.3L520.3 727.3L520.4 728.4L520.4 729.4L520.5 730.4L520.5 731.4L520.6 732.3L520.7 733.4L520.7 734.6L520.8 735.7L520.9 736.8L520.9 737.9L521.0 739.0L521.1 740.1L521.1 741.1L521.2 742.2L521.3 743.3L521.3 744.3L521.4 745.4L521.5 746.4L521.5 747.5L521.6 748.5L521.7 749.5L521.7 750.5L521.8 751.5L521.8 752.5L521.9 753.5L522.0 754.4L522.0 755.4L522.1 756.4L522.2 757.3L522.2 758.3L522.3 759.2L522.4 760.3L522.5 761.5L522.5 762.6L522.6 763.7L522.7 764.7L522.8 765.8L522.8 766.9L522.9 767.9L523.0 768.9L523.1 769.9L523.1 770.9L523.2 771.9L523.3 772.9L523.4 773.9L523.4 774.9L523.5 775.9L523.6 776.8L523.7 777.8L523.7 778.8L523.8 779.7L523.9 780.7L524.0 781.8L524.1 782.9L524.1 783.9L524.2 785.0L524.3 786.1L524.4 787.2L524.5 788.2L524.5 789.3L524.6 790.3L524.7 791.4L524.8 792.4L524.8 793.4L524.9 794.4L525.0 795.4L525.1 796.4L525.2 797.3L525.3 798.3L525.4 799.1L525.5 800.0L525.7 801.2L525.8 802.4L526.0 803.5L526.2 804.6L526.4 805.6L526.6 806.6L526.8 807.5L527.0 808.4L527.2 809.4L527.4 810.3L527.6 811.2L527.8 812.1L528.0 813.1L528.3 814.1L528.5 815.2L528.8 816.2L529.0 817.1L529.3 818.1L529.6 819.2L529.8 820.3L530.1 821.3L530.4 822.1L530.8 823.1L531.1 824.1L531.5 825.1L531.8 826.2L532.3 827.2L532.7 828.2L533.1 829.4L533.5 830.6L534.0 831.4L534.4 832.2L534.9 833.0L535.3 834.0L535.7 834.9L536.6 835.9L537.4 835.8L538.3 836.2L539.1 836.9L540.0 837.5L540.8 838.1L541.6 838.8L542.4 839.3L543.5 839.5L544.9 839.8L545.6 840.1L546.4 840.7L547.3 841.2L548.2 841.2L549.1 840.6L550.1 840.4L551.1 841.5L552.2 842.7L553.2 843.1L554.3 843.4L555.3 843.5L556.4 842.7L557.4 842.1L558.4 842.2L559.4 842.4L560.4 842.6L561.5 843.4L562.6 844.0L563.6 844.5L564.7 845.3L565.8 845.4L566.9 844.8L568.0 844.6L569.0 844.4L570.1 844.2L571.2 844.3L572.3 844.6L573.4 844.9L574.6 845.6L575.8 846.1L576.9 845.8L578.1 845.5L579.2 845.7L580.2 845.8L581.3 845.9L582.2 846.0L583.1 846.1L583.9 846.2L585.4 846.6L586.5 846.0L587.5 845.0L588.2 844.3L589.0 844.1L589.7 844.0L590.6 844.1L591.4 844.2L592.0 844.9L592.6 846.1L593.0 846.8" fill="none" stroke="#1a1ae6" stroke-width="1.20" stroke-linejoin="round"/>
<path d="M98.0 818.6L98.7 818.5L99.6 818.5L100.6 818.4L101.8 817.2L102.9 816.0L104.0 816.7L105.0 818.3L106.0 818.8L107.0 818.0L108.0 817.6L109.0 818.4L110.0 819.4L111.0 819.4L112.0 818.3L113.0 817.4L114.0 817.6L115.0 818.6L116.0 818.7L117.0 817.9L118.0 817.2L119.0 817.8L120.0 819.0L121.0 819.6L122.0 819.7L123.0 819.6L124.0 819.4L125.0 819.3L126.0 819.1L127.0 818.5L128.0 817.9L129.0 818.0L130.0 818.9L131.0 819.6L132.0 820.0L133.0 820.4L134.0 820.3L135.0 818.9L135.9 817.6L136.9 817.6L137.9 818.0L138.9 818.2L140.0 818.8L140.9 819.4L141.9 819.5L142.9 819.2L143.9 819.2L144.9 819.1L146.0 818.7L147.0 818.7L148.0 818.5L149.0 818.4L150.0 818.9L151.0 819.8L152.0 819.7L153.0 818.1L154.0 816.9L155.0 817.3L156.0 818.5L157.0 818.9L158.0 819.1L159.0 819.3L160.0 819.2L161.0 818.1L162.0 817.8L163.0 818.1L164.0 818.4L165.0 818.4L166.0 818.3L167.0 818.1L168.0 818.2L169.0 818.4L170.0 818.3L171.0 817.9L172.0 817.6L173.0 817.9L174.0 818.8L174.9 819.2L175.9 819.2L176.9 819.3L177.9 819.2L178.9 818.1L180.0 817.4L180.9 817.9L181.9 818.8L182.9 818.9L183.9 817.6L184.9 816.3L185.9 816.2L186.9 816.1L188.0 816.0L189.0 816.7L190.0 817.4L191.0 817.5L192.0 817.6L192.9 817.6L193.9 817.6L194.9 817.5L195.9 817.5L196.9 817.6L197.9 817.8L198.9 817.5L200.0 817.2L200.9 816.9L201.9 816.0L202.8 815.0L203.8 814.9L204.8 815.5L205.8 815.8L206.8 815.8L207.9 815.9L208.9 815.5L209.9 813.9L211.0 812.9L212.0 813.2L213.0 813.7L214.0 813.6L215.0 812.9L216.0 812.3L217.1 812.2L218.1 812.0L219.1 811.9L220.2 812.4L221.2 812.6L222.2 812.6L223.2 812.7L224.1 812.7L225.0 813.0L226.1 813.2L227.3 812.2L228.4 810.5L229.5 810.2L230.5 810.7L231.5 810.8L232.5 811.1L233.4 811.7L234.2 811.7L235.0 811.2L236.3 810.4L237.4 809.9L238.3 809.3L239.1 808.7L240.0 807.8L240.6 807.0L241.2 806.4L241.8 806.0L242.4 805.3L243.0 804.3L243.6 803.1L244.3 802.0L244.8 801.5L245.3 800.7L245.9 799.7L246.5 798.7L247.1 797.6L247.7 796.4L248.3 795.4L248.9 794.7L249.4 793.9L249.9 792.9L250.4 792.0L251.5 790.8L252.5 790.3L253.3 789.9L254.1 789.4L254.6 788.4L255.1 787.1L255.6 785.8L256.0 784.6L256.4 783.5L256.8 782.5L257.2 781.5L257.5 780.4L257.8 779.3L258.1 778.3L258.5 777.9L259.8 777.8L261.1 776.9L262.5 774.8L263.8 774.5L265.2 775.0L266.5 775.2L267.0 776.3L267.5 777.9L268.1 779.3L268.5 780.1L269.0 781.2L269.4 782.4L269.9 783.6L270.3 784.7L270.6 785.7L270.8 786.6L271.1 787.3L271.4 788.3L271.9 790.1L272.2 790.9L272.4 791.7L272.7 792.5L273.1 793.4L273.4 794.4L273.8 795.4L274.2 796.5L274.6 797.4L275.0 798.4L275.3 799.4L275.7 800.4L276.1 801.3L276.5 802.2L276.9 803.2L277.4 804.2L277.8 805.2L278.2 806.2L278.6 807.1L279.1 808.0L279.5 809.0L280.0 809.8L280.5 810.6L281.0 811.3L281.5 811.8L282.4 812.6L283.4 813.2L284.4 813.9L285.5 815.2L286.5 815.9L287.5 816.0L288.5 816.1L289.6 816.3L290.6 816.2L291.6 816.2L292.7 815.3L293.6 814.6L294.6 814.9L295.7 815.5L296.7 815.9L297.7 816.5L298.7 817.2L300.0 817.8L300.8 818.3L301.7 818.6L302.5 818.7L303.4 818.8L304.4 819.2L305.5 820.0L306.8 820.6L308.4 821.6L309.2 821.7L310.0 821.0L310.9 820.2L311.8 820.2L312.8 820.5L313.8 820.7L314.9 821.1L315.9 821.9L317.0 822.1L318.1 821.4L319.2 821.0L320.4 821.6L321.5 822.4L322.6 822.2L323.7 821.7L324.8 821.6L325.9 821.0L326.9 820.7L327.9 821.3L328.9 822.2L330.0 822.3L331.0 821.8L332.0 821.5L333.0 822.2L334.1 823.6L335.1 824.0L336.1 824.2L337.1 824.4L338.1 824.3L339.2 823.8L340.2 823.8L341.2 824.5L342.2 825.1L343.3 824.7L344.3 823.6L345.3 823.2L346.3 823.6L347.3 824.0L348.4 823.9L349.4 823.4L350.4 823.2L351.4 823.0L352.5 822.8L353.5 823.1L354.5 824.4L355.5 825.1L356.5 824.1L357.6 822.8L358.6 823.0L359.6 824.5L360.6 825.4L361.7 825.0L362.7 824.4L363.7 824.3L364.7 824.6L365.7 824.8L366.8 824.3L367.8 823.2L368.8 823.2L369.9 824.7L370.9 825.9L371.9 825.9L372.9 825.8L374.0 825.7L375.0 824.8L376.0 824.0L377.0 824.1L378.0 824.4L379.1 824.5L380.1 824.6L381.1 824.7L382.1 825.0L383.1 825.8L384.1 826.2L385.2 825.7L386.2 825.3L387.2 825.8L388.3 827.3L389.3 827.9L390.3 827.7L391.4 827.4L392.4 827.7L393.4 828.2L394.4 828.5L395.4 828.1L396.3 827.6L397.3 827.8L398.2 828.5L399.1 829.1L400.0 829.1L401.2 828.8L402.3 828.8L403.3 829.1L404.3 829.4L405.2 829.3L406.2 828.9L407.1 828.6L408.1 829.2L409.0 830.1L410.1 830.3L411.1 830.1L412.2 829.9L413.4 829.9L414.3 829.8L415.2 829.8L416.2 829.1L417.2 828.4L418.2 828.3L419.2 828.0L420.2 827.9L421.3 827.9L422.3 827.8L423.4 827.8L424.5 827.8L425.6 827.8L426.6 829.1L427.7 830.3L428.8 829.8L429.8 828.5L430.9 828.2L431.9 829.1L432.9 829.9L434.0 829.4L435.1 828.1L436.2 827.9L437.3 828.6L438.4 829.0L439.5 828.4L440.6 827.8L441.6 827.7L442.7 827.8L443.8 827.8L444.8 828.4L445.8 828.9L446.8 828.8L447.7 828.6L448.6 828.4L449.5 828.5L450.3 828.9L451.8 828.9L453.1 827.3L454.2 826.6L455.3 826.5L456.2 826.4L457.2 826.1L458.1 825.6L459.0 825.2L460.0 825.2L461.2 825.4L462.3 825.8L463.5 827.2L464.6 827.3L465.7 826.5L466.8 826.0L467.8 825.8L468.7 825.5L470.0 825.0L471.0 824.4L472.0 823.9L472.9 824.0L473.8 824.2L474.8 824.1L475.7 823.9L476.7 823.6L477.9 822.1L478.5 821.2L479.2 820.6L480.0 819.8L480.8 818.9L481.6 818.2L482.4 817.5L483.2 817.0L483.9 816.8L484.6 816.1L485.2 815.3L486.1 814.2L486.8 813.0L487.4 811.9L488.0 811.1L488.5 810.3L489.0 809.3L489.4 808.4L489.8 807.4L490.1 806.3L490.4 805.2L490.6 804.1L490.9 803.0L491.2 802.1L491.6 800.9L492.0 800.0L492.4 799.2L492.8 798.3L493.2 796.8L493.4 796.1L493.6 795.3L493.8 794.4L494.0 793.6L494.2 792.6L494.4 791.6L494.6 790.5L494.8 789.4L495.0 788.4L495.3 787.3L495.5 786.1L495.7 785.0L495.9 784.0L496.1 783.0L496.3 782.1L496.5 781.0L496.7 780.0L496.9 779.0L497.1 778.0L497.3 776.9L497.5 775.9L497.7 774.8L497.9 773.8L498.1 772.8L498.2 771.8L498.4 770.9L498.6 770.0L498.8 769.0L499.0 768.0L499.2 767.1L499.4 766.1L499.6 765.2L499.8 764.3L500.0 763.4L500.2 762.4L500.4 761.4L500.6 760.3L500.8 759.2L500.9 758.3L501.1 757.4L501.2 756.4L501.3 755.4L501.5 754.4L501.6 753.3L501.7 752.2L501.9 751.1L502.0 750.1L502.1 749.0L502.2 747.9L502.4 746.9L502.5 745.9L502.6 744.9L502.8 743.9L502.9 743.1L503.1 741.9L503.3 740.7L503.5 739.7L503.7 738.6L503.9 737.7L504.1 736.8L504.3 735.9L504.5 735.0L504.7 734.1L504.9 733.2L505.1 732.3L505.4 731.0L505.7 729.8L506.0 728.7L506.4 727.7L506.7 726.7L506.9 725.8L507.2 724.9L507.6 723.6L507.9 722.5L508.3 721.6L508.6 720.9L509.3 719.3L509.9 718.3L510.5 719.4L511.0 721.1L511.3 722.0L511.6 723.1L512.0 724.8L512.2 725.6L512.4 726.4L512.7 727.3L512.9 728.3L513.2 729.4L513.5 730.6L513.7 731.8L514.0 733.1L514.2 734.4L514.3 735.3L514.5 736.2L514.6 737.1L514.7 738.1L514.8 739.1L514.9 740.1L515.0 741.1L515.1 742.2L515.3 743.2L515.4 744.3L515.5 745.3L515.6 746.3L515.7 747.4L515.8 748.4L515.9 749.4L516.0 750.4L516.1 751.4L516.3 752.4L516.4 753.4L516.5 754.5L516.6 755.5L516.7 756.5L516.8 757.5L516.9 758.5L517.1 759.5L517.2 760.5L517.3 761.4L517.4 762.4L517.5 763.4L517.6 764.4L517.8 765.4L517.9 766.4L518.0 767.4L518.1 768.3L518.2 769.2L518.3 770.2L518.5 771.2L518.6 772.2L518.7 773.2L518.9 774.3L519.0 775.4L519.1 776.3L519.3 777.3L519.4 778.3L519.5 779.4L519.7 780.5L519.8 781.6L520.0 782.7L520.1 783.8L520.3 784.8L520.4 785.9L520.6 786.9L520.7 788.0L520.8 788.9L521.0 789.9L521.1 790.7L521.2 791.5L521.4 792.9L521.5 794.1L521.6 795.2L521.7 796.1L521.8 797.0L521.9 797.9L522.1 798.9L522.3 800.0L522.5 801.0L522.7 801.9L522.9 802.8L523.2 803.7L523.4 804.7L523.7 805.8L524.0 806.8L524.3 807.8L524.6 808.8L525.0 809.9L525.3 811.0L525.7 812.0L526.0 813.0L526.4 814.1L526.8 815.2L527.2 816.4L527.6 817.3L528.0 818.0L528.5 818.9L529.0 819.8L529.5 820.6L530.0 821.5L530.7 822.6L531.3 823.6L532.0 824.9L532.7 826.0L533.4 826.1L534.2 826.0L535.1 826.6L536.0 827.5L537.0 828.1L538.0 828.5L538.9 828.7L539.8 828.8L540.7 828.5L541.7 828.4L542.8 829.2L543.9 830.1L545.0 830.2L546.1 829.9L547.2 829.9L548.3 830.3L549.5 830.6L550.7 831.2L551.8 831.7L552.7 831.8L553.7 831.8L554.7 831.9L555.7 831.5L556.7 831.0L557.7 831.3L558.8 832.1L559.8 832.6L560.8 832.6L561.9 832.6L562.9 832.8L563.9 833.3L564.9 833.7L565.9 832.9L566.9 831.9L567.8 831.9L568.9 832.5L570.1 833.0L571.2 833.8L572.3 834.6L573.4 834.7L574.5 834.7L575.5 834.9L576.6 835.0L577.6 835.1L578.6 835.3L579.6 835.5L580.6 835.6L581.6 835.8L582.8 836.0L584.0 836.3L585.2 836.5L586.4 836.6L587.6 836.8L588.7 836.7L589.8 836.6L590.8 836.5L591.7 836.6L592.4 836.8L593.0 836.8" fill="none" stroke="#ee1c1c" stroke-width="1.20" stroke-linejoin="round"/>
<text x="4.6" y="21.2" font-family="Liberation Sans, sans-serif" font-size="29.5" font-weight="bold" fill="#000">a</text>
<text x="76.6" y="384.8" font-family="Liberation Sans, sans-serif" font-size="14.8" text-anchor="end" fill="#2a2a2a">2000</text>
<text x="76.6" y="291.6" font-family="Liberation Sans, sans-serif" font-size="14.8" text-anchor="end" fill="#2a2a2a">3000</text>
<text x="76.6" y="198.3" font-family="Liberation Sans, sans-serif" font-size="14.8" text-anchor="end" fill="#2a2a2a">4000</text>
<text x="76.6" y="105.0" font-family="Liberation Sans, sans-serif" font-size="14.8" text-anchor="end" fill="#2a2a2a">5000</text>
<text x="76.6" y="11.8" font-family="Liberation Sans, sans-serif" font-size="14.8" text-anchor="end" fill="#2a2a2a">6000</text>
<text x="565.0" y="404.5" font-family="Liberation Sans, sans-serif" font-size="14.8" text-anchor="middle" fill="#2a2a2a">158</text>
<text x="509.0" y="404.5" font-family="Liberation Sans, sans-serif" font-size="14.8" text-anchor="middle" fill="#2a2a2a">160</text>
<text x="453.0" y="404.5" font-family="Liberation Sans, sans-serif" font-size="14.8" text-anchor="middle" fill="#2a2a2a">162</text>
<text x="397.0" y="404.5" font-family="Liberation Sans, sans-serif" font-size="14.8" text-anchor="middle" fill="#2a2a2a">164</text>
<text x="341.0" y="404.5" font-family="Liberation Sans, sans-serif" font-size="14.8" text-anchor="middle" fill="#2a2a2a">166</text>
<text x="285.0" y="404.5" font-family="Liberation Sans, sans-serif" font-size="14.8" text-anchor="middle" fill="#2a2a2a">168</text>
<text x="229.0" y="404.5" font-family="Liberation Sans, sans-serif" font-size="14.8" text-anchor="middle" fill="#2a2a2a">170</text>
<text x="173.0" y="404.5" font-family="Liberation Sans, sans-serif" font-size="14.8" text-anchor="middle" fill="#2a2a2a">172</text>
<text x="117.0" y="404.5" font-family="Liberation Sans, sans-serif" font-size="14.8" text-anchor="middle" fill="#2a2a2a">174</text>
<text transform="translate(24.2,180.1) rotate(-90) scale(1.13,1)" font-family="Liberation Sans, sans-serif" font-size="19" text-anchor="middle" fill="#2a2a2a">Counts / s</text>
<text x="260" y="433" font-family="Liberation Sans, sans-serif" font-size="18.3" fill="#2a2a2a">Binding energy (eV)</text>
<rect x="212.5" y="51.5" width="176" height="92.5" fill="none" stroke="#333" stroke-width="1"/>
<path d="M223.4 67.3H264" stroke="#333" stroke-width="1.1" stroke-dasharray="5 3.4"/>
<path d="M223.4 89.6H264" stroke="#111" stroke-width="1.1"/>
<path d="M223.4 112.0H264" stroke="#1a1ae6" stroke-width="1.1"/>
<path d="M223.4 134.3H264" stroke="#ee1c1c" stroke-width="1.1"/>
<text x="268.5" y="73.6" font-family="Liberation Sans, sans-serif" font-size="17.6" word-spacing="1.8" fill="#111">(1) Ag/Cu</text>
<text x="268.5" y="95.9" font-family="Liberation Sans, sans-serif" font-size="17.6" word-spacing="1.8" fill="#111">(2) Ag/Cu<tspan dx="0.9">-</tspan><tspan dx="1.0">C</tspan><tspan dx="1.3" font-size="13.6">4</tspan></text>
<text x="268.5" y="118.3" font-family="Liberation Sans, sans-serif" font-size="17.6" word-spacing="1.8" fill="#111">(3) Ag<tspan dx="0.9">-</tspan><tspan dx="1.0">Cu</tspan><tspan dx="0.9">-</tspan><tspan dx="1.0">C</tspan><tspan dx="1.3" font-size="13.6">8</tspan></text>
<text x="268.5" y="140.6" font-family="Liberation Sans, sans-serif" font-size="17.6" word-spacing="1.8" fill="#111">(4) Ag<tspan dx="0.9">-</tspan><tspan dx="1.0">Cu</tspan><tspan dx="0.9">-</tspan><tspan dx="1.0">C</tspan><tspan dx="1.3" font-size="13.6">12</tspan></text>
<text x="481.2" y="98.0" font-family="Liberation Sans, sans-serif" font-size="15.6" fill="#2a2a2a">(2)</text>
<text x="442.6" y="187.2" font-family="Liberation Sans, sans-serif" font-size="15.6" fill="#2a2a2a">(3)</text>
<text x="447.2" y="255.6" font-family="Liberation Sans, sans-serif" font-size="15.6" fill="#2a2a2a">(4)</text>
<text x="447.2" y="299.6" font-family="Liberation Sans, sans-serif" font-size="15.6" fill="#2a2a2a">(1)</text>
<text x="3.5" y="505.3" font-family="Liberation Sans, sans-serif" font-size="31" font-weight="bold" fill="#000">b</text>
<text x="80.9" y="512.9" font-family="Liberation Sans, sans-serif" font-size="14.6" text-anchor="end" fill="#2a2a2a">3.5x10</text>
<text x="80.4" y="504.3" font-family="Liberation Sans, sans-serif" font-size="7.5" fill="#2a2a2a">4</text>
<text x="80.9" y="580.9" font-family="Liberation Sans, sans-serif" font-size="14.6" text-anchor="end" fill="#2a2a2a">3.0x10</text>
<text x="80.4" y="572.3" font-family="Liberation Sans, sans-serif" font-size="7.5" fill="#2a2a2a">4</text>
<text x="80.9" y="648.9" font-family="Liberation Sans, sans-serif" font-size="14.6" text-anchor="end" fill="#2a2a2a">2.5x10</text>
<text x="80.4" y="640.3" font-family="Liberation Sans, sans-serif" font-size="7.5" fill="#2a2a2a">4</text>
<text x="80.9" y="716.9" font-family="Liberation Sans, sans-serif" font-size="14.6" text-anchor="end" fill="#2a2a2a">2.0x10</text>
<text x="80.4" y="708.3" font-family="Liberation Sans, sans-serif" font-size="7.5" fill="#2a2a2a">4</text>
<text x="80.9" y="784.9" font-family="Liberation Sans, sans-serif" font-size="14.6" text-anchor="end" fill="#2a2a2a">1.5x10</text>
<text x="80.4" y="776.3" font-family="Liberation Sans, sans-serif" font-size="7.5" fill="#2a2a2a">4</text>
<text x="80.9" y="852.9" font-family="Liberation Sans, sans-serif" font-size="14.6" text-anchor="end" fill="#2a2a2a">1.0x10</text>
<text x="80.4" y="844.3" font-family="Liberation Sans, sans-serif" font-size="7.5" fill="#2a2a2a">4</text>
<text x="159.1" y="893.2" font-family="Liberation Sans, sans-serif" font-size="14.8" text-anchor="middle" fill="#2a2a2a">960</text>
<text x="283.4" y="893.2" font-family="Liberation Sans, sans-serif" font-size="14.8" text-anchor="middle" fill="#2a2a2a">950</text>
<text x="407.6" y="893.2" font-family="Liberation Sans, sans-serif" font-size="14.8" text-anchor="middle" fill="#2a2a2a">940</text>
<text x="531.9" y="893.2" font-family="Liberation Sans, sans-serif" font-size="14.8" text-anchor="middle" fill="#2a2a2a">930</text>
<text transform="translate(16.6,686) rotate(-90) scale(1.12,1)" font-family="Liberation Sans, sans-serif" font-size="19" text-anchor="middle" fill="#2a2a2a">Counts / s</text>
<text x="266" y="924.2" font-family="Liberation Sans, sans-serif" font-size="18.3" fill="#2a2a2a">Binding energy (eV)</text>
<rect x="228.7" y="517.8" width="166.7" height="94.7" fill="none" stroke="#333" stroke-width="1"/>
<path d="M235.8 531.8H275.6" stroke="#555" stroke-width="1.1" stroke-dasharray="4 5"/>
<path d="M235.8 554.6H275.6" stroke="#444" stroke-width="1.1"/>
<path d="M235.8 578.4H275.6" stroke="#3030e0" stroke-width="1.1"/>
<path d="M235.8 601.3H275.6" stroke="#e83030" stroke-width="1.1"/>
<text x="280.6" y="537.6" font-family="Liberation Sans, sans-serif" font-size="17.6" word-spacing="1.2" fill="#111">(1) Ag/Cu</text>
<text x="280.6" y="560.4" font-family="Liberation Sans, sans-serif" font-size="17.6" word-spacing="1.2" fill="#111">(2) Ag/Cu<tspan dx="0.9">-</tspan><tspan dx="1.0">C</tspan><tspan dx="1.3" font-size="13.6">4</tspan></text>
<text x="280.6" y="584.2" font-family="Liberation Sans, sans-serif" font-size="17.6" word-spacing="1.2" fill="#111">(3) Ag/Cu<tspan dx="0.9">-</tspan><tspan dx="1.0">C</tspan><tspan dx="1.3" font-size="13.6">8</tspan></text>
<text x="280.6" y="607.1" font-family="Liberation Sans, sans-serif" font-size="17.6" word-spacing="1.2" fill="#111">(4) Ag/Cu<tspan dx="0.9">-</tspan><tspan dx="1.0">C</tspan><tspan dx="1.3" font-size="13.6">12</tspan></text>
<text x="491.0" y="510.2" font-family="Liberation Sans, sans-serif" font-size="13" font-weight="bold" fill="#111">Cu2p<tspan font-size="10.5" dy="3">3/2</tspan></text>
<text x="248.8" y="680.1" font-family="Liberation Sans, sans-serif" font-size="13" font-weight="bold" fill="#111">Cu2p<tspan font-size="10.5" dy="3">3/2</tspan></text>
<path d="M554.4 556.6L523.3 572.0" stroke="#5b8ccc" stroke-width="1.1"/>
<path d="M517.5 574.9L522.0 569.3L524.7 574.7Z" fill="#5b8ccc"/>
<path d="M552.8 601.7L520.8 617.5" stroke="#5b8ccc" stroke-width="1.1"/>
<path d="M515.0 620.4L519.5 614.8L522.2 620.2Z" fill="#5b8ccc"/>
<path d="M551.9 709.4L521.6 723.6" stroke="#5b8ccc" stroke-width="1.1"/>
<path d="M515.7 726.4L520.3 720.9L522.9 726.4Z" fill="#5b8ccc"/>
<path d="M550.6 756.4L519.1 770.9" stroke="#5b8ccc" stroke-width="1.1"/>
<path d="M513.2 773.6L517.9 768.2L520.4 773.6Z" fill="#5b8ccc"/>
<path d="M305.5 692.8L274.5 706.4" stroke="#5b8ccc" stroke-width="1.1"/>
<path d="M268.5 709.0L273.3 703.6L275.7 709.1Z" fill="#5b8ccc"/>
<path d="M305.5 723.2L274.2 737.4" stroke="#5b8ccc" stroke-width="1.1"/>
<path d="M268.3 740.1L273.0 734.7L275.5 740.1Z" fill="#5b8ccc"/>
<path d="M305.5 757.3L273.4 772.3" stroke="#5b8ccc" stroke-width="1.1"/>
<path d="M267.5 775.1L272.1 769.6L274.7 775.1Z" fill="#5b8ccc"/>
<path d="M305.5 781.2L273.4 796.8" stroke="#5b8ccc" stroke-width="1.1"/>
<path d="M267.5 799.6L272.0 794.1L274.7 799.5Z" fill="#5b8ccc"/>
<text x="556.6" y="559.2" font-family="Liberation Sans, sans-serif" font-size="13" font-weight="bold" textLength="17" lengthAdjust="spacingAndGlyphs" fill="#111">(2)</text>
<text x="556.6" y="605.4" font-family="Liberation Sans, sans-serif" font-size="13" font-weight="bold" textLength="17" lengthAdjust="spacingAndGlyphs" fill="#111">(3)</text>
<text x="553.1" y="709.4" font-family="Liberation Sans, sans-serif" font-size="13" font-weight="bold" textLength="17" lengthAdjust="spacingAndGlyphs" fill="#111">(4)</text>
<text x="554.2" y="759.9" font-family="Liberation Sans, sans-serif" font-size="13" font-weight="bold" textLength="17" lengthAdjust="spacingAndGlyphs" fill="#111">(1)</text>
<text x="308.6" y="693.2" font-family="Liberation Sans, sans-serif" font-size="13" font-weight="bold" textLength="17" lengthAdjust="spacingAndGlyphs" fill="#111">(2)</text>
<text x="308.6" y="723.8" font-family="Liberation Sans, sans-serif" font-size="13" font-weight="bold" textLength="17" lengthAdjust="spacingAndGlyphs" fill="#111">(3)</text>
<text x="308.8" y="758.6" font-family="Liberation Sans, sans-serif" font-size="13" font-weight="bold" textLength="17" lengthAdjust="spacingAndGlyphs" fill="#111">(4)</text>
<text x="308.8" y="783.0" font-family="Liberation Sans, sans-serif" font-size="13" font-weight="bold" textLength="17" lengthAdjust="spacingAndGlyphs" fill="#111">(1)</text>
</svg>
</body></html>
